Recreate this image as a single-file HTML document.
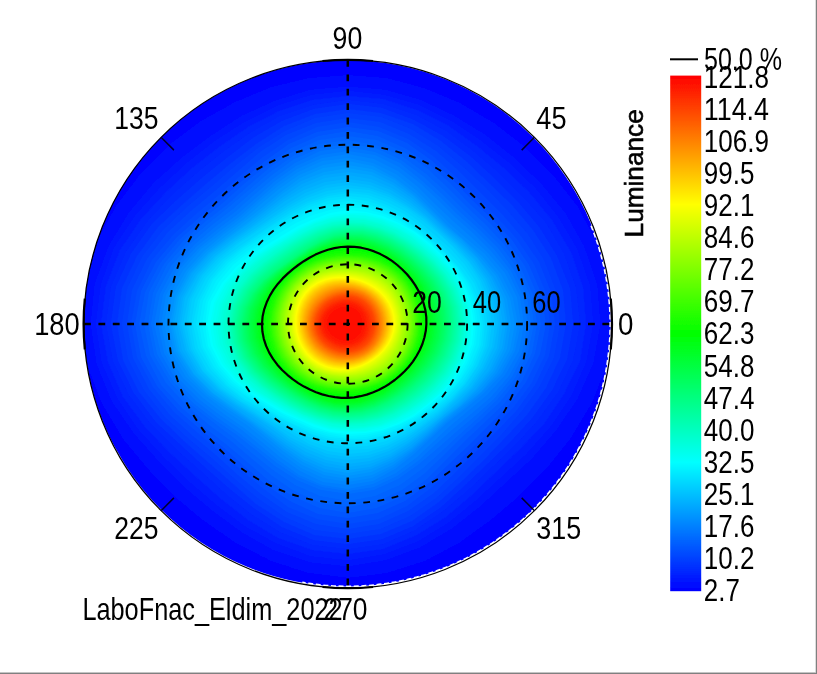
<!DOCTYPE html>
<html><head><meta charset="utf-8"><title>Luminance polar plot</title>
<style>
html,body{margin:0;padding:0;background:#fff;}
body{width:817px;height:674px;overflow:hidden;position:relative;}
svg{position:absolute;left:0;top:0;display:block;}
text{font-family:"Liberation Sans",sans-serif;fill:#000;}
</style></head><body>
<svg width="817" height="674" viewBox="0 0 817 674">
<defs>
<clipPath id="cp"><circle cx="347.2" cy="323.4" r="263.2"/></clipPath>
<linearGradient id="cb" x1="0" y1="0" x2="0" y2="1">
<stop offset="0" stop-color="#ff0000"/><stop offset="0.25" stop-color="#ffff00"/><stop offset="0.5" stop-color="#00ff00"/><stop offset="0.75" stop-color="#00ffff"/><stop offset="1" stop-color="#0000ff"/>
</linearGradient>
<filter id="soft" x="0" y="0" width="817" height="674" filterUnits="userSpaceOnUse"><feGaussianBlur stdDeviation="0.55"/></filter>
</defs>
<rect x="0" y="0" width="817" height="674" fill="#fff"/>
<g filter="url(#soft)">
<g clip-path="url(#cp)">
<rect x="80" y="55" width="540" height="540" fill="#0000ff"/>
<polygon points="620,324 616,282 603,241 585,203 560,170 532,140 500,115 465,94 428,78 388,68 348,64 307,67 267,77 230,92 195,113 163,139 134,169 110,203 91,241 79,281 76,324 81,366 94,407 113,444 137,477 165,506 196,532 231,554 268,571 307,582 348,586 389,583 428,572 466,556 500,534 532,508 560,478 584,444 603,407 615,366" fill="#0003ff"/>
<polygon points="613,324 610,283 597,243 578,207 553,175 525,147 494,123 460,103 424,88 387,78 348,75 309,78 271,87 235,102 201,121 169,145 141,173 116,206 96,242 84,282 81,324 87,365 102,404 123,439 148,469 175,497 204,521 236,543 271,561 308,573 348,578 387,573 425,561 459,543 491,520 519,496 547,468 571,438 592,403 607,365" fill="#000aff"/>
<polygon points="606,324 603,284 591,245 571,210 546,180 519,153 489,130 457,111 422,96 386,86 348,82 310,86 273,95 239,110 207,130 176,153 148,179 123,209 103,244 90,283 86,324 92,365 107,402 128,436 153,465 180,492 208,516 239,538 273,555 309,567 348,572 386,567 422,554 455,535 485,513 513,489 539,463 564,434 585,401 600,364" fill="#0011ff"/>
<polygon points="600,324 597,285 584,247 565,213 541,184 514,158 485,135 454,116 420,100 385,90 348,87 311,90 275,101 242,116 211,136 182,158 154,183 129,213 109,246 95,284 91,324 97,364 112,401 134,433 159,461 185,487 212,510 242,532 274,550 310,562 348,566 385,560 420,547 452,528 480,506 506,482 532,458 556,430 577,399 593,363" fill="#0018ff"/>
<polygon points="593,324 590,286 577,249 558,217 535,188 509,163 481,141 451,121 419,105 384,95 348,91 312,95 277,106 245,122 215,141 187,163 160,188 135,216 114,248 101,285 96,324 102,363 118,399 139,430 164,457 190,482 217,505 245,526 276,543 311,556 348,560 384,554 418,541 449,522 476,500 501,477 526,454 550,427 571,396 586,362" fill="#001fff"/>
<polygon points="586,324 583,287 571,252 552,220 529,192 504,168 477,146 449,126 417,110 383,99 348,96 312,100 279,111 248,127 219,147 192,168 166,192 141,219 120,250 106,286 101,324 108,362 123,397 145,427 170,453 195,476 221,499 248,520 278,538 312,550 348,554 383,549 417,535 446,517 472,495 496,472 520,449 544,424 564,394 580,361" fill="#0025ff"/>
<polygon points="580,324 576,288 564,254 546,223 523,197 499,173 473,151 446,131 416,115 383,104 348,100 313,105 280,116 250,133 223,152 197,173 171,196 147,222 126,252 111,287 106,324 113,361 129,395 151,424 176,449 201,471 225,493 251,514 280,532 313,545 348,549 383,544 415,530 443,511 468,490 491,468 515,445 537,421 558,392 573,360" fill="#002cff"/>
<polygon points="573,324 570,289 557,256 539,227 517,201 494,178 470,156 443,136 414,120 382,108 348,104 314,109 282,121 253,138 227,158 202,178 177,200 152,224 131,254 116,287 111,324 118,360 134,393 156,422 181,445 205,467 229,488 254,508 282,527 314,540 348,544 382,539 413,526 441,507 465,485 487,464 510,442 532,418 552,390 567,359" fill="#0033ff"/>
<polygon points="566,324 563,290 551,258 533,230 512,205 489,183 466,161 441,141 413,124 381,113 348,109 315,114 284,126 256,144 231,163 207,183 183,204 158,227 137,256 122,288 117,324 123,360 139,392 161,419 185,442 209,463 232,483 256,504 284,522 314,535 348,539 381,534 412,521 439,502 462,481 484,460 505,438 527,415 546,388 560,358" fill="#003aff"/>
<polygon points="560,324 556,291 544,260 527,233 506,209 485,187 462,166 438,146 411,129 381,117 348,113 315,118 285,131 258,148 234,167 211,187 187,207 163,230 142,257 127,289 122,324 128,359 144,390 165,417 189,439 213,459 235,479 259,499 285,517 315,530 348,534 380,529 410,516 436,498 459,477 480,456 501,435 521,412 540,386 554,357" fill="#0041ff"/>
<polygon points="555,324 551,292 539,262 521,236 501,213 480,192 459,171 436,151 409,134 380,122 348,118 316,123 286,135 260,152 237,172 215,191 192,210 168,232 147,259 132,290 127,324 133,358 149,389 170,415 193,436 216,455 238,475 261,494 287,512 316,524 348,529 379,524 408,511 434,493 456,472 476,452 496,432 517,410 535,385 549,356" fill="#0047ff"/>
<polygon points="550,324 546,293 534,264 516,238 496,216 476,196 455,176 433,156 408,139 379,127 348,122 317,127 288,140 263,157 240,176 219,195 196,214 173,235 152,260 137,291 131,324 137,357 153,387 174,412 198,433 220,452 241,470 264,489 288,507 317,519 348,524 379,519 407,506 431,488 452,468 472,448 492,429 513,408 531,384 545,355" fill="#004eff"/>
<polygon points="546,324 541,293 529,265 512,240 492,219 472,200 453,180 431,160 407,143 378,131 348,127 317,132 289,144 265,161 243,180 222,199 200,217 177,237 156,262 141,291 135,324 141,357 157,386 178,410 201,430 224,448 244,466 266,485 290,501 318,514 348,518 378,513 405,501 429,483 449,464 469,445 488,426 508,406 526,382 540,354" fill="#0055ff"/>
<polygon points="541,324 537,294 525,266 508,242 489,222 469,203 450,183 429,164 405,148 378,136 348,131 318,136 291,148 267,165 245,183 225,201 203,219 180,239 160,263 145,292 139,324 146,356 161,385 182,408 205,428 227,445 247,462 268,480 292,496 319,508 348,513 377,508 404,496 427,479 446,460 465,441 484,423 504,404 522,381 535,354" fill="#005cff"/>
<polygon points="537,324 533,295 521,268 504,244 485,224 466,206 447,187 427,168 404,152 377,140 348,136 319,140 292,152 269,168 248,186 228,204 206,221 184,240 164,264 149,292 144,324 150,355 166,383 187,406 209,425 231,441 251,458 271,475 294,491 320,503 348,507 376,502 402,490 424,474 443,456 461,438 481,420 500,402 518,379 532,353" fill="#0063ff"/>
<polygon points="534,324 530,295 518,269 501,246 482,227 463,209 445,191 425,173 402,156 376,145 348,140 319,144 293,156 270,172 250,189 230,206 209,223 187,242 167,265 153,293 148,324 154,355 170,382 190,404 213,422 234,438 253,454 273,470 295,485 320,496 348,501 375,496 400,485 422,469 441,452 459,435 478,418 497,400 515,378 528,353" fill="#0069ff"/>
<polygon points="531,324 527,296 514,270 498,248 479,229 460,212 442,194 423,176 401,160 376,148 348,144 320,148 294,159 272,175 252,192 233,209 212,225 190,244 171,266 156,294 151,324 157,354 173,381 193,403 215,420 237,435 256,450 275,466 297,480 321,490 348,494 374,490 398,479 419,464 438,448 456,432 475,416 494,399 512,377 525,352" fill="#0070ff"/>
<polygon points="528,324 523,296 511,271 494,249 476,231 457,214 440,197 421,180 400,163 375,152 348,147 320,151 295,163 274,178 254,195 235,212 215,227 194,245 174,268 160,294 154,324 161,354 176,380 196,401 218,418 239,433 258,448 277,463 298,477 322,487 348,491 374,487 397,476 418,461 435,445 453,429 471,414 491,397 509,376 522,352" fill="#0077ff"/>
<polygon points="524,324 520,297 508,272 491,251 473,233 455,217 438,200 420,183 399,167 375,155 348,151 321,155 296,166 275,181 256,198 238,214 218,229 196,247 177,269 163,295 158,324 164,353 179,379 200,400 221,416 242,430 260,445 278,460 299,475 322,485 348,489 373,484 396,473 416,458 433,442 450,426 468,411 487,395 505,375 519,351" fill="#007eff"/>
<polygon points="521,324 517,297 505,273 488,253 470,236 452,220 435,204 418,187 398,171 374,159 348,154 322,158 297,169 276,184 258,200 240,216 220,231 199,248 180,269 166,295 161,324 167,353 183,378 203,398 224,414 244,428 262,442 280,457 300,471 323,482 348,485 373,481 395,469 414,454 431,438 447,423 465,409 484,393 502,374 515,351" fill="#0085ff"/>
<polygon points="518,324 513,298 501,274 485,254 466,238 449,223 433,207 416,190 396,174 373,163 348,158 322,161 298,172 278,186 259,202 241,218 222,233 201,249 183,270 169,296 164,324 171,352 186,377 206,396 227,412 247,425 264,439 282,454 301,468 323,478 348,482 372,478 394,467 413,452 430,437 446,422 464,408 482,392 500,373 513,350" fill="#008bff"/>
<polygon points="515,324 510,298 498,275 482,256 464,240 447,225 431,209 415,193 395,178 373,166 348,161 323,165 299,175 279,189 261,204 243,220 224,234 204,251 186,271 172,296 168,324 174,352 189,376 208,395 229,410 249,423 266,437 283,451 302,465 324,475 348,479 372,475 393,465 412,451 429,436 445,421 462,407 481,392 497,373 510,350" fill="#0092ff"/>
<polygon points="511,324 507,299 496,276 480,257 463,240 446,226 430,210 414,195 395,180 372,169 348,165 323,168 300,178 281,192 263,207 245,221 226,236 206,252 188,272 175,297 170,324 176,351 191,375 210,394 231,409 250,422 267,435 284,449 303,462 324,472 348,476 371,472 393,462 412,449 428,435 444,420 461,406 479,391 495,372 507,349" fill="#0099ff"/>
<polygon points="508,324 504,299 493,277 478,258 462,241 445,227 429,212 413,196 394,183 372,172 348,168 324,172 301,181 282,194 264,209 247,223 228,237 208,253 190,273 177,297 172,324 178,351 193,374 212,393 232,408 251,421 268,434 285,447 304,460 325,469 348,473 371,469 392,460 411,448 427,434 443,419 460,406 477,390 493,371 504,349" fill="#00a0ff"/>
<polygon points="506,324 502,300 491,277 477,258 460,242 444,228 429,213 412,198 393,185 371,175 348,172 324,175 302,184 283,197 265,211 248,224 229,238 209,254 192,273 179,297 174,324 180,351 194,374 213,393 233,407 252,420 269,432 286,445 305,457 325,466 348,470 370,467 391,458 410,446 427,432 442,419 459,405 476,389 491,370 502,348" fill="#00a7ff"/>
<polygon points="503,324 499,300 489,278 475,259 459,243 443,229 428,214 411,200 392,188 371,179 348,175 325,178 303,187 284,199 267,212 249,226 231,239 211,254 194,274 181,298 177,324 182,350 196,373 215,392 235,406 253,418 270,431 287,443 305,455 326,463 348,467 370,464 391,456 409,444 426,431 441,418 458,404 474,388 489,370 499,348" fill="#00adff"/>
<polygon points="500,324 497,300 487,279 474,260 458,244 442,230 427,216 410,202 391,190 370,182 348,179 325,182 304,190 285,201 268,214 251,227 232,240 213,255 196,275 183,298 179,324 185,350 198,373 216,391 236,405 255,417 272,429 288,441 306,452 326,460 348,464 370,461 390,454 408,443 425,430 441,417 457,403 472,388 486,369 497,348" fill="#00b4ff"/>
<polygon points="498,324 494,301 485,279 472,261 457,245 441,231 426,217 409,204 390,193 370,185 348,182 326,185 305,193 287,204 269,216 252,228 234,241 215,256 198,275 185,298 181,324 187,350 200,372 218,390 237,404 256,416 273,427 289,439 307,449 327,457 348,460 369,458 389,451 407,441 424,429 440,416 455,402 471,387 484,368 494,347" fill="#00bbff"/>
<polygon points="495,324 492,301 483,280 470,262 456,246 440,232 425,218 408,206 390,195 369,188 348,185 326,188 306,196 288,206 271,218 253,230 235,242 216,257 200,276 188,299 183,324 189,349 202,371 219,389 238,403 257,415 274,426 290,437 308,446 327,454 348,457 369,455 388,449 406,439 423,427 439,415 454,401 469,386 482,368 492,347" fill="#00c2ff"/>
<polygon points="492,324 489,302 481,281 469,262 454,247 439,233 424,219 407,207 389,197 369,190 348,188 327,191 307,198 289,208 272,219 255,231 237,243 218,258 202,276 190,299 186,324 191,349 203,371 221,389 240,402 258,414 275,424 292,434 309,444 328,451 348,454 368,452 387,446 405,437 422,426 438,414 453,400 468,385 480,367 489,346" fill="#00c9ff"/>
<polygon points="490,324 487,302 479,281 467,263 453,247 438,233 423,221 407,209 388,199 369,193 348,191 327,194 308,201 290,210 273,221 256,232 238,244 220,259 204,277 192,299 188,324 193,349 205,370 222,388 241,402 259,412 276,423 293,432 310,441 328,447 348,450 368,449 387,444 404,435 421,425 437,413 452,400 466,384 478,366 487,346" fill="#00cfff"/>
<polygon points="488,324 484,302 476,282 465,265 451,249 436,236 421,223 405,211 387,202 368,195 348,193 328,196 308,203 291,212 274,223 258,234 240,246 222,260 206,278 195,300 191,324 195,348 207,370 224,387 242,401 260,411 277,421 294,430 311,438 329,444 348,447 367,446 386,441 403,433 420,423 436,412 451,399 465,384 477,366 485,346" fill="#00d6ff"/>
<polygon points="485,324 482,303 474,283 462,266 448,251 434,238 419,225 404,214 387,205 368,198 348,196 328,198 309,205 292,214 275,224 259,235 242,247 224,261 209,279 198,300 193,324 198,348 210,369 226,386 244,400 262,410 278,420 295,428 312,435 329,441 348,444 367,443 385,438 402,431 419,422 434,411 450,398 464,383 475,365 483,345" fill="#00ddff"/>
<polygon points="483,324 479,303 471,284 459,267 446,253 432,240 418,228 402,217 386,207 367,201 348,198 328,201 310,207 293,216 277,226 260,237 243,248 226,262 211,280 200,301 196,324 201,347 212,368 227,385 245,399 263,409 279,418 296,426 312,434 330,439 348,441 366,440 384,436 402,429 418,420 433,410 448,397 462,382 473,365 481,345" fill="#00e4ff"/>
<polygon points="481,324 477,303 469,284 458,268 445,253 431,241 417,229 402,218 385,210 367,204 348,201 329,204 311,210 294,218 278,228 262,238 245,249 228,263 213,280 203,301 199,324 203,347 214,367 229,384 247,397 264,408 280,417 296,425 313,432 330,437 348,439 366,439 384,435 401,428 417,419 432,409 447,396 460,381 471,364 479,345" fill="#00ebff"/>
<polygon points="478,324 475,304 468,285 457,268 444,254 430,241 416,230 401,220 384,212 366,206 348,204 329,207 312,212 295,220 279,229 263,240 247,251 230,264 216,281 206,301 202,324 206,346 217,367 231,383 248,396 265,407 281,416 297,423 313,430 330,435 348,438 366,437 383,433 400,427 416,418 431,408 446,395 459,381 469,363 476,344" fill="#00f1ff"/>
<polygon points="476,324 473,304 466,286 456,269 443,255 430,242 415,231 400,221 384,214 366,209 348,207 330,210 313,215 296,223 281,232 265,242 249,252 233,265 219,282 208,302 205,324 208,346 219,366 233,382 250,395 266,405 282,414 298,422 314,429 330,433 348,436 365,435 383,431 399,425 415,417 430,407 445,394 457,380 467,363 474,344" fill="#00f8ff"/>
<polygon points="474,324 471,304 464,286 454,270 442,255 429,243 415,232 399,223 383,216 366,212 348,210 330,213 314,219 298,226 283,235 268,244 252,254 236,267 222,283 211,302 207,324 211,346 221,365 235,381 251,394 268,404 283,413 299,420 314,427 331,432 348,434 365,433 382,430 399,424 414,416 429,405 443,393 455,379 465,362 472,344" fill="#00ffff"/>
<polygon points="472,324 470,305 463,287 453,270 441,256 428,244 414,233 399,224 382,218 365,213 348,213 331,215 314,221 299,228 284,237 269,246 254,256 238,268 224,284 214,303 210,324 213,345 223,365 237,381 253,393 269,403 284,412 299,419 315,425 331,430 348,432 365,432 382,429 398,423 414,415 428,404 442,392 454,378 464,362 470,343" fill="#00fff8"/>
<polygon points="471,324 468,305 462,287 452,271 440,257 427,245 413,234 398,225 382,219 365,215 348,214 331,217 315,222 300,229 285,238 270,247 255,257 240,269 226,284 216,303 212,324 216,345 225,364 238,380 254,392 270,402 285,411 300,418 315,424 331,429 348,431 365,431 381,427 397,422 413,414 427,404 441,392 453,378 462,361 469,343" fill="#00fff1"/>
<polygon points="469,324 467,305 461,287 451,271 439,258 426,246 412,235 397,227 382,220 365,216 348,215 331,218 315,223 300,230 286,239 271,248 256,257 241,270 228,285 219,304 215,324 218,345 227,363 240,379 255,391 270,401 285,410 300,417 315,423 331,428 348,430 364,429 381,426 397,420 412,412 426,403 440,391 452,377 461,361 467,343" fill="#00ffeb"/>
<polygon points="468,324 466,305 459,288 450,272 438,258 425,247 411,236 397,228 381,221 365,218 348,217 331,219 315,224 301,231 286,240 272,248 258,258 243,271 230,286 221,304 217,324 220,344 229,363 242,378 256,391 271,400 286,409 301,416 316,422 332,427 348,429 364,428 381,425 396,419 411,411 425,402 439,390 450,376 460,360 466,343" fill="#00ffe4"/>
<polygon points="467,324 464,306 458,288 449,273 437,259 424,248 411,237 396,229 381,223 364,219 348,218 331,221 316,226 301,233 287,241 273,249 259,259 245,271 232,286 223,304 220,324 223,344 231,362 243,377 257,390 272,400 287,408 301,415 316,421 332,426 348,428 364,427 380,424 396,418 410,410 424,401 438,389 449,376 459,360 465,343" fill="#00ffdd"/>
<polygon points="465,324 463,306 457,289 448,273 436,260 423,248 410,239 396,230 380,224 364,220 348,220 332,222 316,227 302,234 288,242 274,250 260,260 246,272 234,287 225,305 222,324 225,343 233,361 245,376 259,389 273,399 287,407 302,414 316,420 332,424 348,426 364,426 380,422 395,417 410,409 423,400 436,388 448,375 457,360 463,342" fill="#00ffd6"/>
<polygon points="464,324 462,306 456,289 446,274 435,261 422,249 409,240 395,232 380,225 364,222 348,221 332,223 317,228 302,235 289,243 275,251 261,261 248,273 236,288 228,305 224,324 227,343 235,361 246,376 260,388 274,398 288,406 302,414 317,419 332,423 348,425 364,424 379,421 394,416 409,408 423,399 435,388 447,374 456,359 462,342" fill="#00ffcf"/>
<polygon points="463.1,324 460.7,306.1 454.5,289.3 445.3,274.3 434,261.3 421.6,250.2 408.3,240.7 394.3,232.8 379.4,226.8 363.8,223.2 347.8,222.4 332.1,224.6 317,229.3 302.9,235.9 289.4,243.7 276.2,252.4 262.7,262.2 249.6,274 238.2,288.4 230.1,305.4 226.8,324 229.3,342.8 236.7,360.1 247.7,375 260.8,387.2 274.6,397.2 288.5,405.7 302.5,412.8 317.1,418.5 332.2,422.3 347.8,424 363.5,423.1 378.9,419.8 393.8,414.3 408,406.9 421.6,397.8 434.3,386.8 445.6,373.8 454.8,358.8 460.9,341.9" fill="#00ffc9"/>
<polygon points="461.8,324 459.6,306.3 453.5,289.7 444.4,274.8 433.2,261.9 420.9,250.9 407.8,241.5 393.9,233.6 379.1,227.7 363.6,224.1 347.8,223.3 332.2,225.6 317.4,230.3 303.4,236.9 290.1,244.6 277,253.2 263.7,262.9 250.7,274.5 239.4,288.8 231.3,305.5 228,324 230.4,342.6 237.8,359.7 248.7,374.5 261.6,386.6 275.3,396.5 289,404.9 303,412 317.4,417.6 332.4,421.5 347.8,423.1 363.3,422.2 378.6,418.8 393.3,413.4 407.4,406 420.7,396.9 433.2,386.1 444.5,373.3 453.6,358.4 459.7,341.7" fill="#00ffc2"/>
<polygon points="460.6,324 458.4,306.5 452.4,290 443.4,275.3 432.4,262.5 420.2,251.6 407.2,242.2 393.4,234.4 378.8,228.5 363.5,225 347.8,224.3 332.4,226.6 317.7,231.3 303.9,237.9 290.8,245.6 277.9,254.1 264.7,263.6 251.8,275.1 240.6,289.2 232.5,305.7 229.1,324 231.5,342.4 238.8,359.4 249.6,374 262.4,386 276,395.8 289.6,404.2 303.4,411.2 317.7,416.8 332.5,420.6 347.8,422.2 363.2,421.2 378.3,417.9 392.8,412.4 406.7,405 419.8,396 432.2,385.3 443.4,372.7 452.4,358 458.5,341.5" fill="#00ffbb"/>
<polygon points="459.4,324 457.3,306.7 451.3,290.4 442.4,275.8 431.6,263.1 419.5,252.3 406.7,243 393,235.2 378.5,229.4 363.3,225.9 347.8,225.2 332.5,227.6 318,232.3 304.4,238.9 291.5,246.5 278.8,255 265.7,264.4 253,275.7 241.8,289.5 233.7,305.9 230.3,324 232.6,342.2 239.9,359.1 250.5,373.6 263.2,385.4 276.7,395.1 290.1,403.4 303.8,410.4 317.9,415.9 332.6,419.7 347.8,421.2 363,420.3 378,416.9 392.3,411.4 406,404.1 419,395.2 431.2,384.6 442.2,372.1 451.2,357.6 457.2,341.3" fill="#00ffb4"/>
<polygon points="458.2,324 456.1,306.8 450.2,290.7 441.5,276.3 430.7,263.8 418.8,253 406.1,243.8 392.6,236.1 378.3,230.3 363.2,226.8 347.8,226.2 332.7,228.5 318.3,233.3 304.9,239.9 292.2,247.5 279.6,255.8 266.7,265.1 254.1,276.2 242.9,289.9 234.9,306.1 231.5,324 233.7,342.1 240.9,358.7 251.5,373.1 264,384.9 277.3,394.5 290.7,402.6 304.2,409.6 318.2,415.1 332.8,418.8 347.8,420.3 362.9,419.3 377.7,415.9 391.8,410.4 405.3,403.1 418.1,394.3 430.2,383.9 441.1,371.5 450,357.2 456,341.1" fill="#00ffad"/>
<polygon points="457,324 454.9,307 449.2,291.1 440.5,276.8 429.9,264.4 418.1,253.7 405.5,244.5 392.2,236.9 378,231.1 363,227.7 347.8,227.1 332.8,229.5 318.7,234.4 305.4,240.9 292.9,248.4 280.5,256.7 267.7,265.8 255.2,276.8 244.1,290.3 236,306.3 232.6,324 234.9,341.9 241.9,358.4 252.4,372.6 264.9,384.3 278,393.8 291.2,401.9 304.6,408.8 318.5,414.2 332.9,417.9 347.8,419.4 362.7,418.4 377.3,414.9 391.3,409.4 404.6,402.2 417.2,393.4 429.2,383.1 440,371 448.8,356.8 454.8,340.9" fill="#00ffa7"/>
<polygon points="455.8,324 453.8,307.2 448.1,291.4 439.6,277.2 429.1,265 417.4,254.4 405,245.3 391.8,237.7 377.7,232 362.9,228.6 347.8,228.1 333,230.5 319,235.4 306,241.9 293.6,249.4 281.4,257.6 268.7,266.6 256.3,277.4 245.3,290.7 237.2,306.5 233.8,324 236,341.7 243,358.1 253.3,372.1 265.7,383.7 278.7,393.1 291.8,401.1 305,408 318.8,413.4 333.1,417.1 347.8,418.5 362.6,417.4 377,413.9 390.8,408.5 403.9,401.2 416.4,392.6 428.1,382.4 438.8,370.4 447.6,356.4 453.5,340.7" fill="#00ffa0"/>
<polygon points="454.5,324 452.6,307.4 447,291.8 438.6,277.7 428.2,265.6 416.7,255.1 404.4,246 391.4,238.5 377.4,232.8 362.8,229.5 347.8,229 333.1,231.5 319.3,236.4 306.5,242.9 294.3,250.3 282.2,258.4 269.8,267.3 257.4,277.9 246.4,291.1 238.4,306.7 235,324 237.1,341.5 244,357.7 254.3,371.6 266.5,383.1 279.4,392.4 292.3,400.4 305.4,407.1 319,412.5 333.2,416.2 347.8,417.6 362.4,416.4 376.7,413 390.3,407.5 403.2,400.3 415.5,391.7 427.1,381.6 437.7,369.8 446.4,356 452.3,340.5" fill="#00ff99"/>
<polygon points="453.3,324 451.5,307.6 446,292.1 437.6,278.2 427.4,266.2 416,255.8 403.9,246.8 390.9,239.3 377.1,233.7 362.6,230.4 347.8,229.9 333.3,232.5 319.6,237.4 307,243.9 295,251.3 283.1,259.3 270.8,268 258.5,278.5 247.6,291.4 239.6,306.9 236.1,324 238.2,341.4 245,357.4 255.2,371.2 267.3,382.5 280.1,391.7 292.9,399.6 305.8,406.3 319.3,411.7 333.3,415.3 347.8,416.7 362.3,415.5 376.4,412 389.8,406.5 402.5,399.4 414.6,390.8 426.1,380.9 436.6,369.2 445.2,355.6 451,340.4" fill="#00ff92"/>
<polygon points="452.1,324 450.3,307.8 444.9,292.5 436.7,278.7 426.6,266.8 415.3,256.5 403.3,247.6 390.5,240.1 376.9,234.6 362.5,231.3 347.8,230.9 333.5,233.4 320,238.4 307.5,244.9 295.7,252.3 284,260.2 271.8,268.8 259.6,279.1 248.8,291.8 240.8,307.1 237.3,324 239.3,341.2 246.1,357.1 256.2,370.7 268.1,381.9 280.8,391 293.4,398.8 306.3,405.5 319.6,410.8 333.5,414.4 347.8,415.8 362.1,414.5 376.1,411 389.3,405.5 401.9,398.4 413.8,390 425.1,380.2 435.4,368.6 444,355.2 449.8,340.2" fill="#00ff8b"/>
<polygon points="450.9,324 449.1,307.9 443.8,292.8 435.7,279.2 425.8,267.4 414.6,257.2 402.8,248.3 390.1,241 376.6,235.4 362.3,232.2 347.8,231.8 333.6,234.4 320.3,239.4 308,245.9 296.4,253.2 284.8,261 272.8,269.5 260.7,279.6 249.9,292.2 242,307.2 238.5,324 240.4,341 247.1,356.7 257.1,370.2 269,381.3 281.5,390.3 294,398.1 306.7,404.7 319.9,410 333.6,413.5 347.8,414.8 362,413.6 375.8,410 388.8,404.5 401.2,397.5 412.9,389.1 424.1,379.4 434.3,368.1 442.8,354.9 448.6,340" fill="#00ff85"/>
<polygon points="449.7,324 448,308.1 442.7,293.2 434.8,279.7 424.9,268 413.9,257.9 402.2,249.1 389.7,241.8 376.3,236.3 362.2,233.1 347.8,232.8 333.8,235.4 320.6,240.4 308.5,246.9 297.1,254.2 285.7,261.9 273.8,270.2 261.8,280.2 251.1,292.6 243.2,307.4 239.6,324 241.5,340.8 248.1,356.4 258,369.7 269.8,380.7 282.2,389.6 294.5,397.3 307.1,403.9 320.1,409.1 333.8,412.6 347.8,413.9 361.8,412.6 375.4,409 388.3,403.5 400.5,396.5 412,388.2 423.1,378.7 433.1,367.5 441.5,354.5 447.3,339.8" fill="#00ff7e"/>
<polygon points="448.5,324 446.8,308.3 441.7,293.5 433.8,280.2 424.1,268.6 413.2,258.6 401.7,249.8 389.3,242.6 376,237.1 362.1,233.9 347.8,233.6 333.9,236.3 320.9,241.3 309,247.8 297.7,255.1 286.6,262.8 274.8,271 263,280.8 252.3,293 244.4,307.6 240.8,324 242.7,340.7 249.2,356 259,369.3 270.6,380.1 282.8,389 295.1,396.6 307.5,403.1 320.4,408.3 333.9,411.8 347.8,413 361.7,411.7 375.1,408.1 387.8,402.6 399.8,395.6 411.2,387.4 422,377.9 432,366.9 440.3,354.1 446.1,339.6" fill="#00ff77"/>
<polygon points="447.2,324 445.6,308.5 440.6,293.9 432.8,280.7 423.2,269.2 412.5,259.3 401.1,250.6 388.9,243.4 375.8,237.9 361.9,234.8 347.8,234.4 334,237 321.1,241.9 309.2,248.3 298.1,255.5 287,263.2 275.3,271.3 263.7,281.1 253.2,293.3 245.4,307.8 242,324 243.8,340.5 250.3,355.7 260,368.8 271.4,379.5 283.5,388.3 295.6,395.8 307.9,402.3 320.7,407.5 334,411 347.8,412.2 361.6,410.9 374.9,407.3 387.4,401.8 399.3,394.8 410.5,386.7 421.2,377.3 431,366.4 439.2,353.7 444.9,339.4" fill="#00ff70"/>
<polygon points="446,324 444.5,308.7 439.5,294.2 431.9,281.2 422.4,269.8 411.8,260 400.6,251.4 388.5,244.2 375.5,238.8 361.8,235.6 347.8,235.2 334.1,237.7 321.3,242.5 309.5,248.8 298.4,256 287.3,263.5 275.8,271.7 264.3,281.5 254.1,293.5 246.5,308 243.1,324 245,340.3 251.4,355.3 260.9,368.3 272.2,378.9 284.2,387.6 296.1,395.2 308.2,401.6 320.9,406.8 334.1,410.2 347.8,411.5 361.4,410.1 374.6,406.5 387,401 398.7,394.1 409.8,386 420.3,376.7 430,365.9 438.1,353.3 443.7,339.2" fill="#00ff69"/>
<polygon points="444.8,324 443.3,308.9 438.4,294.6 430.9,281.7 421.6,270.4 411.2,260.6 400,252.1 388.1,245 375.2,239.6 361.7,236.4 347.8,236 334.2,238.4 321.5,243.1 309.7,249.3 298.7,256.4 287.7,263.9 276.4,272.1 265,281.8 255,293.8 247.5,308.1 244.3,324 246.2,340.1 252.5,355 261.8,367.8 273,378.4 284.8,387 296.5,394.6 308.6,401 321.1,406.1 334.3,409.5 347.8,410.7 361.3,409.4 374.4,405.7 386.7,400.3 398.2,393.3 409.1,385.3 419.5,376.1 429,365.4 437,353 442.5,339" fill="#00ff63"/>
<polygon points="443.4,324 442,309.1 437.2,295 429.9,282.2 420.8,271 410.5,261.3 399.5,252.8 387.7,245.7 375,240.4 361.5,237.3 347.8,236.7 334.3,239.1 321.7,243.7 310,249.8 299,256.8 288.1,264.3 276.9,272.5 265.7,282.2 255.9,294.1 248.6,308.3 245.5,324 247.3,339.9 253.5,354.6 262.8,367.3 273.7,377.8 285.3,386.5 297,393.9 308.9,400.3 321.3,405.4 334.4,408.8 347.8,409.9 361.2,408.6 374.1,405 386.3,399.5 397.6,392.6 408.4,384.6 418.6,375.4 428,364.9 435.8,352.6 441.2,338.8" fill="#00ff5c"/>
<polygon points="442.1,324 440.7,309.3 436,295.3 428.9,282.7 419.9,271.6 409.8,262 399,253.5 387.3,246.5 374.7,241.2 361.4,238.1 347.8,237.5 334.5,239.8 321.9,244.3 310.2,250.3 299.3,257.2 288.5,264.7 277.4,272.8 266.4,282.5 256.8,294.4 249.7,308.5 246.6,324 248.5,339.7 254.6,354.3 263.7,366.9 274.5,377.3 285.9,385.9 297.4,393.3 309.2,399.7 321.6,404.7 334.5,408 347.8,409.2 361.1,407.8 373.9,404.2 385.9,398.7 397.1,391.9 407.7,383.9 417.7,374.8 426.9,364.3 434.6,352.2 439.9,338.6" fill="#00ff55"/>
<polygon points="440.7,324 439.4,309.5 434.9,295.7 427.9,283.2 419.1,272.2 409.2,262.6 398.5,254.3 386.9,247.3 374.4,242 361.3,238.9 347.8,238.3 334.6,240.5 322.1,244.9 310.5,250.8 299.6,257.6 288.9,265.1 277.9,273.2 267.1,282.9 257.6,294.7 250.7,308.6 247.8,324 249.7,339.5 255.7,353.9 264.6,366.4 275.2,376.7 286.5,385.3 297.9,392.7 309.6,399 321.8,404 334.6,407.3 347.8,408.4 361,407 373.6,403.4 385.5,398 396.6,391.1 407,383.2 416.9,374.2 425.9,363.8 433.4,351.8 438.6,338.4" fill="#00ff4e"/>
<polygon points="439.3,324 438.1,309.7 433.7,296.1 426.9,283.7 418.3,272.8 408.5,263.3 398,255 386.5,248 374.2,242.8 361.2,239.7 347.8,239.1 334.7,241.2 322.3,245.5 310.7,251.3 299.9,258.1 289.3,265.5 278.5,273.6 267.9,283.3 258.7,295 252,308.8 249.2,324 251,339.3 256.8,353.6 265.6,365.9 276,376.2 287.1,384.7 298.3,392.1 309.9,398.4 322,403.3 334.7,406.6 347.8,407.7 360.8,406.3 373.3,402.6 385.1,397.2 396,390.4 406.3,382.5 416,373.5 424.8,363.2 432.1,351.4 437.2,338.2" fill="#00ff47"/>
<polygon points="438,324 436.7,309.9 432.5,296.5 425.9,284.2 417.5,273.4 407.9,263.9 397.4,255.7 386.1,248.8 373.9,243.6 361,240.5 347.8,239.9 334.8,241.9 322.5,246.1 311,251.8 300.2,258.5 289.7,265.9 279,274 268.7,283.7 259.7,295.4 253.2,309 250.5,324 252.3,339.1 258,353.2 266.6,365.4 276.8,375.6 287.7,384.1 298.8,391.5 310.2,397.7 322.2,402.7 334.8,405.9 347.8,406.9 360.7,405.5 373.1,401.9 384.7,396.5 395.5,389.7 405.6,381.8 415.1,372.9 423.8,362.7 430.9,351 435.9,338" fill="#00ff41"/>
<polygon points="436.6,324 435.4,310.1 431.3,296.9 424.9,284.7 416.7,274 407.2,264.6 396.9,256.4 385.7,249.6 373.7,244.4 360.9,241.4 347.8,240.7 334.9,242.6 322.7,246.6 311.2,252.2 300.5,258.9 290,266.2 279.6,274.4 269.5,284.1 260.7,295.7 254.5,309.2 251.9,324 253.6,338.9 259.2,352.8 267.6,364.9 277.5,375 288.3,383.5 299.2,390.9 310.5,397.1 322.5,402 334.9,405.1 347.8,406.1 360.6,404.7 372.8,401.1 384.3,395.7 395,388.9 404.9,381.1 414.2,372.3 422.7,362.2 429.7,350.6 434.6,337.7" fill="#00ff3a"/>
<polygon points="435.3,324 434.1,310.3 430.2,297.2 423.9,285.2 415.8,274.6 406.6,265.2 396.4,257.1 385.3,250.3 373.4,245.2 360.8,242.2 347.8,241.5 335,243.3 322.9,247.2 311.5,252.7 300.8,259.3 290.4,266.6 280.1,274.8 270.2,284.5 261.7,296 255.7,309.4 253.2,324 255,338.7 260.4,352.4 268.5,364.4 278.3,374.5 288.8,383 299.7,390.3 310.9,396.5 322.7,401.3 335.1,404.4 347.8,405.4 360.5,403.9 372.6,400.3 383.9,394.9 394.4,388.2 404.2,380.4 413.4,371.6 421.6,361.6 428.5,350.2 433.2,337.5" fill="#00ff33"/>
<polygon points="433.9,324 432.8,310.5 429,297.6 422.9,285.7 415,275.2 405.9,265.9 395.9,257.8 384.9,251.1 373.1,246 360.6,243 347.8,242.3 335.1,244 323,247.8 311.7,253.2 301.1,259.7 290.8,267 280.7,275.2 271,284.9 262.8,296.4 256.9,309.6 254.6,324 256.3,338.5 261.6,352 269.5,363.9 279.1,373.9 289.4,382.4 300.1,389.7 311.2,395.8 322.9,400.6 335.2,403.7 347.8,404.6 360.3,403.1 372.3,399.5 383.5,394.2 393.9,387.5 403.5,379.7 412.5,371 420.6,361.1 427.3,349.8 431.9,337.3" fill="#00ff2c"/>
<polygon points="432.5,324 431.5,310.7 427.8,298 421.9,286.3 414.2,275.8 405.3,266.5 395.4,258.5 384.6,251.9 372.9,246.9 360.5,243.8 347.8,243.1 335.2,244.7 323.2,248.4 312,253.7 301.4,260.1 291.2,267.4 281.2,275.6 271.8,285.3 263.8,296.7 258.2,309.8 255.9,324 257.6,338.3 262.8,351.6 270.5,363.4 279.9,373.4 290,381.8 300.5,389.1 311.5,395.2 323.1,400 335.3,403 347.8,403.8 360.2,402.4 372.1,398.7 383.2,393.4 393.4,386.7 402.8,379 411.6,370.4 419.5,360.6 426.1,349.4 430.6,337.1" fill="#00ff25"/>
<polygon points="431.2,324 430.2,310.9 426.7,298.4 420.9,286.8 413.4,276.4 404.6,267.2 394.9,259.2 384.2,252.6 372.6,247.7 360.4,244.6 347.8,243.8 335.4,245.4 323.4,249 312.2,254.1 301.7,260.5 291.6,267.8 281.8,276 272.6,285.7 264.8,297 259.4,310 257.3,324 259,338.1 264,351.2 271.5,362.9 280.6,372.8 290.6,381.2 301,388.5 311.8,394.6 323.3,399.3 335.4,402.2 347.8,403.1 360.1,401.6 371.8,398 382.8,392.6 392.8,386 402.1,378.3 410.8,369.7 418.5,360 424.8,349 429.3,336.9" fill="#00ff1f"/>
<polygon points="429.8,324 428.9,311.2 425.5,298.8 419.9,287.3 412.6,277 404,267.8 394.3,259.9 383.8,253.4 372.3,248.5 360.2,245.5 347.8,244.6 335.5,246.1 323.6,249.6 312.5,254.6 302,260.9 292,268.2 282.3,276.4 273.4,286.1 265.9,297.4 260.7,310.2 258.6,324 260.3,337.9 265.1,350.9 272.5,362.4 281.4,372.3 291.2,380.6 301.5,387.8 312.3,393.7 323.7,398.3 335.6,401.1 347.8,401.9 359.9,400.4 371.5,396.9 382.3,391.7 392.3,385.2 401.4,377.6 409.9,369.1 417.5,359.5 423.7,348.6 427.9,336.7" fill="#00ff18"/>
<polygon points="428.4,324 427.6,311.4 424.3,299.2 418.8,287.8 411.7,277.6 403.3,268.5 393.8,260.6 383.4,254.2 372.1,249.3 360.1,246.3 347.8,245.4 335.6,246.8 323.8,250.1 312.7,255.1 302.3,261.3 292.3,268.5 282.9,276.8 274.2,286.5 266.9,297.7 261.9,310.4 260,324 261.5,337.7 266.2,350.5 273.3,361.9 282.1,371.8 291.8,380 302,387 312.8,392.8 324.1,397 335.8,399.6 347.8,400.2 359.7,398.8 371,395.5 381.7,390.6 391.6,384.3 400.7,376.9 409.1,368.6 416.5,359 422.5,348.3 426.7,336.5" fill="#00ff11"/>
<polygon points="427.1,324 426.3,311.6 423.1,299.5 417.8,288.3 410.9,278.2 402.6,269.2 393.3,261.3 383,254.9 371.8,250.1 360,247.1 347.8,246.2 335.7,247.5 324,250.7 312.9,255.6 302.5,261.7 292.7,268.9 283.4,277.2 275,286.9 268,298.1 263.2,310.6 261.3,324 262.8,337.5 267.3,350.1 274.2,361.5 282.8,371.2 292.4,379.4 302.5,386.3 313.3,391.8 324.5,395.7 336.1,398.1 347.8,398.6 359.4,397.2 370.6,394.1 381.1,389.4 391,383.4 400,376.2 408.3,368 415.6,358.5 421.4,347.9 425.4,336.3" fill="#00ff0a"/>
<polygon points="425.9,324 425.1,311.8 422,299.9 417,288.8 410.2,278.7 402.1,269.7 392.8,262 382.6,255.7 371.5,251 359.8,248.1 347.8,247.3 335.8,248.5 324.2,251.5 313.2,256.2 302.9,262.2 293.1,269.3 284,277.6 275.7,287.3 269,298.4 264.4,310.8 262.7,324 264.1,337.3 268.4,349.8 275.1,361 283.4,370.8 292.9,378.9 303,385.6 313.7,390.9 324.9,394.6 336.3,396.8 347.8,397.2 359.2,395.9 370.2,392.9 380.7,388.5 390.4,382.7 399.5,375.7 407.7,367.5 414.8,358.1 420.4,347.6 424.3,336.1" fill="#00ff03"/>
<polygon points="424.9,324 424.1,311.9 421.2,300.2 416.3,289.1 409.6,279.1 401.6,270.2 392.4,262.7 382.1,256.6 371.2,252.1 359.6,249.4 347.8,248.6 336,249.7 324.6,252.5 313.6,256.9 303.3,262.7 293.6,269.8 284.5,278 276.5,287.7 270,298.7 265.6,311 264,324 265.3,337.1 269.5,349.4 275.9,360.6 284.1,370.3 293.4,378.4 303.5,385 314.1,390.1 325.2,393.6 336.5,395.6 347.8,396 359,394.7 369.9,392 380.3,387.7 390,382.1 399,375.2 407.1,367.1 414.1,357.8 419.6,347.3 423.3,336" fill="#03ff00"/>
<polygon points="423.9,324 423.2,312.1 420.4,300.4 415.6,289.5 409.1,279.5 401.1,270.7 391.9,263.3 381.7,257.4 370.8,253.2 359.4,250.7 347.8,249.9 336.2,250.9 324.9,253.5 314,257.7 303.7,263.3 294,270.2 285.1,278.4 277.2,288 271,299 266.8,311.2 265.2,324 266.6,336.9 270.6,349.1 276.8,360.2 284.7,369.8 293.9,377.9 303.9,384.4 314.5,389.3 325.5,392.6 336.6,394.5 347.8,394.8 358.8,393.6 369.6,391 379.9,386.9 389.6,381.5 398.6,374.8 406.6,366.7 413.4,357.4 418.8,347.1 422.3,335.8" fill="#0aff00"/>
<polygon points="422.8,324 422.2,312.2 419.5,300.7 414.9,289.8 408.5,279.9 400.6,271.2 391.4,264 381.3,258.3 370.5,254.3 359.2,251.9 347.8,251.2 336.4,252.1 325.2,254.5 314.4,258.4 304.1,263.8 294.4,270.6 285.6,278.8 278,288.4 272,299.4 268,311.4 266.6,324 267.8,336.7 271.6,348.8 277.6,359.8 285.4,369.4 294.4,377.4 304.4,383.8 314.9,388.5 325.8,391.7 336.8,393.3 347.8,393.5 358.6,392.4 369.2,390 379.5,386.2 389.2,380.9 398.1,374.3 406.1,366.3 412.8,357.1 418,346.8 421.4,335.7" fill="#11ff00"/>
<polygon points="421.8,324 421.2,312.4 418.7,301 414.2,290.2 407.9,280.3 400.1,271.7 390.9,264.6 380.8,259.2 370.1,255.4 359,253.2 347.8,252.5 336.6,253.3 325.5,255.5 314.8,259.2 304.5,264.4 294.9,271.1 286.2,279.2 278.7,288.8 272.9,299.7 269.2,311.6 267.9,324 269.1,336.5 272.7,348.4 278.5,359.3 286,368.9 294.9,376.9 304.8,383.1 315.3,387.7 326.1,390.7 337,392.2 347.8,392.3 358.5,391.3 368.9,389 379.1,385.4 388.7,380.4 397.7,373.9 405.5,365.9 412.1,356.8 417.1,346.5 420.4,335.5" fill="#18ff00"/>
<polygon points="420.8,324 420.3,312.5 417.8,301.2 413.5,290.5 407.3,280.7 399.6,272.2 390.5,265.3 380.4,260 369.7,256.5 358.8,254.5 347.8,253.8 336.8,254.5 325.9,256.5 315.2,260 304.9,264.9 295.3,271.5 286.7,279.6 279.5,289.2 273.9,300 270.4,311.7 269.2,324 270.3,336.3 273.8,348.1 279.3,358.9 286.7,368.4 295.5,376.3 305.3,382.5 315.7,386.9 326.5,389.7 337.2,391 347.8,391.1 358.3,390.1 368.6,388 378.7,384.6 388.3,379.8 397.2,373.4 405,365.6 411.4,356.4 416.3,346.3 419.5,335.4" fill="#1fff00"/>
<polygon points="419.9,324 419.4,312.7 417.1,301.5 412.8,290.9 406.8,281.2 399.1,272.7 390,265.9 380,260.8 369.5,257.3 358.7,255.4 347.8,254.8 336.9,255.4 326.1,257.3 315.5,260.6 305.3,265.4 295.7,271.9 287.2,280 280.1,289.5 274.8,300.3 271.4,311.9 270.2,324 271.3,336.1 274.7,347.8 280.1,358.5 287.3,368 296,375.8 305.7,381.9 316.1,386.2 326.7,388.9 337.3,390.2 347.8,390.2 358.1,389.3 368.4,387.3 378.4,384 387.9,379.2 396.8,373 404.5,365.2 410.8,356.1 415.6,346 418.6,335.2" fill="#25ff00"/>
<polygon points="419.2,324 418.7,312.8 416.4,301.7 412.2,291.2 406.2,281.6 398.6,273.2 389.6,266.5 379.7,261.4 369.3,258 358.6,256 347.8,255.4 337,256 326.3,257.9 315.8,261.1 305.6,265.9 296.2,272.4 287.8,280.4 280.7,289.8 275.4,300.5 272.1,312 271,324 272.1,336 275.4,347.5 280.8,358.2 287.9,367.5 296.5,375.3 306.1,381.4 316.4,385.7 326.9,388.3 337.4,389.6 347.8,389.7 358.1,388.7 368.2,386.7 378.1,383.5 387.6,378.7 396.3,372.5 403.9,364.8 410.2,355.8 414.9,345.8 418,335.1" fill="#2cff00"/>
<polygon points="418.5,324 418,312.9 415.7,301.9 411.6,291.5 405.6,282 398.1,273.7 389.2,267 379.4,262 369.1,258.6 358.5,256.7 347.8,256.1 337.1,256.6 326.5,258.4 316,261.6 306,266.4 296.6,272.8 288.3,280.7 281.3,290.1 276.1,300.7 272.8,312.1 271.7,324 272.9,335.9 276.2,347.3 281.5,357.8 288.5,367.1 297,374.8 306.5,380.8 316.7,385.1 327.1,387.8 337.5,389 347.8,389.1 358,388.2 368,386.2 377.8,382.9 387.2,378.2 395.8,372 403.4,364.4 409.6,355.5 414.3,345.6 417.3,335" fill="#33ff00"/>
<polygon points="417.8,324 417.3,313 415,302.2 410.9,291.8 405.1,282.4 397.6,274.2 388.8,267.6 379.1,262.6 368.8,259.2 358.4,257.3 347.8,256.7 337.2,257.2 326.7,259 316.3,262.2 306.3,266.9 297,273.2 288.8,281.1 281.9,290.4 276.8,300.9 273.6,312.2 272.5,324 273.6,335.7 276.9,347 282.2,357.5 289.1,366.6 297.5,374.3 306.9,380.3 317,384.5 327.3,387.2 337.6,388.4 347.8,388.5 357.9,387.6 367.8,385.6 377.6,382.4 386.8,377.7 395.4,371.6 402.9,364 409,355.2 413.6,345.4 416.6,334.9" fill="#3aff00"/>
<polygon points="417.1,324 416.6,313.1 414.4,302.4 410.3,292.2 404.5,282.8 397.1,274.7 388.4,268.1 378.8,263.2 368.6,259.9 358.3,258 347.8,257.3 337.3,257.8 326.9,259.6 316.6,262.7 306.7,267.4 297.4,273.6 289.3,281.5 282.5,290.7 277.5,301.1 274.3,312.4 273.3,324 274.4,335.6 277.7,346.8 282.8,357.1 289.7,366.2 298,373.8 307.3,379.7 317.3,384 327.5,386.6 337.7,387.9 347.8,388 357.8,387.1 367.7,385.1 377.3,381.9 386.5,377.2 394.9,371.1 402.3,363.6 408.4,354.9 413,345.2 415.9,334.8" fill="#41ff00"/>
<polygon points="416.4,324 416,313.2 413.7,302.6 409.7,292.5 403.9,283.2 396.6,275.2 388,268.7 378.5,263.8 368.4,260.5 358.2,258.6 347.8,258 337.4,258.4 327.1,260.1 316.8,263.2 307,267.9 297.9,274.1 289.8,281.9 283.1,291.1 278.1,301.4 275.1,312.5 274,324 275.2,335.5 278.4,346.5 283.5,356.7 290.3,365.8 298.5,373.3 307.7,379.2 317.5,383.4 327.6,386 337.8,387.3 347.8,387.4 357.7,386.5 367.5,384.6 377,381.3 386.1,376.7 394.5,370.7 401.8,363.2 407.8,354.6 412.3,345 415.2,334.7" fill="#47ff00"/>
<polygon points="415.7,324 415.3,313.3 413,302.8 409,292.8 403.3,283.7 396.1,275.7 387.6,269.3 378.2,264.4 368.2,261.1 358.1,259.3 347.8,258.6 337.5,259.1 327.2,260.7 317.1,263.8 307.4,268.3 298.3,274.5 290.3,282.2 283.7,291.4 278.8,301.6 275.8,312.6 274.8,324 276,335.4 279.1,346.3 284.2,356.4 290.9,365.3 299,372.8 308.1,378.6 317.8,382.8 327.8,385.4 337.9,386.7 347.8,386.9 357.6,386 367.3,384 376.7,380.8 385.8,376.2 394,370.2 401.3,362.8 407.2,354.3 411.7,344.7 414.5,334.6" fill="#4eff00"/>
<polygon points="415,324 414.6,313.4 412.3,303 408.4,293.1 402.8,284.1 395.6,276.2 387.2,269.8 377.8,265 368,261.8 358,259.9 347.8,259.2 337.6,259.7 327.4,261.3 317.4,264.3 307.7,268.8 298.7,274.9 290.8,282.6 284.3,291.7 279.5,301.8 276.5,312.7 275.6,324 276.7,335.3 279.9,346.1 284.9,356 291.6,364.9 299.5,372.3 308.5,378.1 318.1,382.2 328,384.9 338,386.2 347.8,386.3 357.5,385.4 367.1,383.5 376.5,380.3 385.4,375.7 393.6,369.8 400.7,362.5 406.6,354 411,344.5 413.8,334.5" fill="#55ff00"/>
<polygon points="414.3,324 413.9,313.5 411.7,303.2 407.8,293.5 402.2,284.5 395.1,276.7 386.8,270.4 377.5,265.6 367.8,262.4 357.9,260.5 347.8,259.9 337.7,260.3 327.6,261.9 317.6,264.8 308.1,269.3 299.2,275.4 291.3,283 284.9,292 280.2,302 277.3,312.8 276.4,324 277.5,335.1 280.6,345.8 285.6,355.7 292.2,364.4 300,371.8 308.9,377.5 318.4,381.7 328.2,384.3 338,385.6 347.8,385.7 357.4,384.9 366.9,382.9 376.2,379.7 385,375.2 393.1,369.3 400.2,362.1 406,353.6 410.3,344.3 413.2,334.4" fill="#5cff00"/>
<polygon points="413.6,324 413.2,313.6 411,303.5 407.1,293.8 401.6,284.9 394.6,277.2 386.3,270.9 377.2,266.2 367.6,263 357.8,261.2 347.8,260.5 337.8,260.9 327.8,262.4 317.9,265.4 308.4,269.8 299.6,275.8 291.9,283.4 285.5,292.3 280.8,302.2 278,312.9 277.1,324 278.3,335 281.4,345.6 286.3,355.3 292.8,364 300.6,371.2 309.3,377 318.7,381.1 328.4,383.7 338.1,385 347.8,385.2 357.4,384.3 366.8,382.4 375.9,379.2 384.7,374.7 392.7,368.9 399.7,361.7 405.4,353.3 409.7,344.1 412.5,334.2" fill="#63ff00"/>
<polygon points="412.9,324 412.5,313.8 410.3,303.7 406.5,294.1 401,285.3 394.1,277.7 385.9,271.5 376.9,266.8 367.4,263.7 357.6,261.8 347.8,261.1 337.9,261.5 328,263 318.2,265.9 308.8,270.3 300,276.2 292.4,283.7 286.1,292.6 281.5,302.5 278.7,313.1 277.9,324 279.1,334.9 282.1,345.3 287,355 293.4,363.5 301.1,370.7 309.7,376.4 319,380.5 328.6,383.1 338.2,384.4 347.8,384.6 357.3,383.8 366.6,381.8 375.7,378.7 384.3,374.2 392.2,368.4 399.1,361.3 404.8,353 409,343.9 411.8,334.1" fill="#69ff00"/>
<polygon points="412.2,324 411.8,313.9 409.6,303.9 405.8,294.4 400.5,285.7 393.6,278.2 385.5,272.1 376.6,267.5 367.2,264.3 357.5,262.5 347.8,261.8 338,262.1 328.2,263.6 318.5,266.4 309.1,270.7 300.5,276.7 292.9,284.1 286.7,292.9 282.2,302.7 279.5,313.2 278.7,324 279.8,334.8 282.9,345.1 287.7,354.6 294,363.1 301.6,370.2 310.1,375.8 319.3,379.9 328.8,382.6 338.3,383.9 347.8,384 357.2,383.2 366.4,381.3 375.4,378.2 383.9,373.7 391.8,368 398.6,360.9 404.2,352.7 408.4,343.7 411.1,334" fill="#70ff00"/>
<polygon points="411.5,324 411.1,314 409,304.1 405.2,294.7 399.9,286.2 393.1,278.7 385.1,272.6 376.3,268.1 367,264.9 357.4,263.1 347.8,262.4 338.1,262.7 328.4,264.1 318.7,266.9 309.5,271.2 300.9,277.1 293.4,284.5 287.3,293.2 282.9,302.9 280.2,313.3 279.4,324 280.6,334.6 283.6,344.9 288.4,354.3 294.6,362.7 302.1,369.7 310.5,375.3 319.6,379.4 329,382 338.4,383.3 347.8,383.5 357.1,382.7 366.2,380.7 375.1,377.6 383.6,373.2 391.3,367.5 398,360.5 403.6,352.4 407.7,343.5 410.4,333.9" fill="#77ff00"/>
<polygon points="410.8,324 410.4,314.1 408.3,304.3 404.6,295.1 399.3,286.6 392.6,279.2 384.7,273.2 376,268.7 366.8,265.6 357.3,263.7 347.8,263 338.2,263.3 328.5,264.7 319,267.5 309.8,271.7 301.3,277.5 293.9,284.9 287.9,293.5 283.5,303.1 280.9,313.4 280.2,324 281.4,334.5 284.4,344.6 289,353.9 295.2,362.2 302.6,369.2 310.9,374.7 319.9,378.8 329.1,381.4 338.5,382.7 347.8,382.9 357,382.1 366.1,380.2 374.9,377.1 383.2,372.7 390.9,367.1 397.5,360.1 403,352.1 407.1,343.3 409.7,333.8" fill="#7eff00"/>
<polygon points="410.1,324 409.6,314.2 407.6,304.6 403.9,295.4 398.7,287 392.1,279.7 384.3,273.8 375.7,269.3 366.6,266.2 357.2,264.4 347.8,263.7 338.3,264 328.7,265.3 319.3,268 310.2,272.2 301.7,277.9 294.4,285.2 288.5,293.8 284.2,303.3 281.7,313.5 281,324 282.2,334.4 285.1,344.4 289.7,353.6 295.8,361.8 303.1,368.7 311.3,374.2 320.2,378.2 329.3,380.8 338.6,382.1 347.8,382.3 356.9,381.5 365.9,379.6 374.6,376.6 382.8,372.2 390.4,366.6 397,359.7 402.3,351.8 406.4,343 409,333.7" fill="#85ff00"/>
<polygon points="409.1,324 408.7,314.4 406.7,304.9 403.2,295.8 398.1,287.4 391.6,280.2 383.9,274.3 375.3,270 366.3,267 357.1,265.3 347.8,264.6 338.4,264.8 329,266.1 319.6,268.6 310.5,272.7 302.2,278.4 294.9,285.6 289.1,294.1 284.9,303.6 282.5,313.7 281.9,324 283,334.3 285.9,344.1 290.4,353.2 296.4,361.3 303.6,368.2 311.8,373.6 320.5,377.5 329.6,380.1 338.7,381.3 347.8,381.5 356.8,380.7 365.7,378.9 374.3,376 382.5,371.7 389.9,366.1 396.4,359.3 401.7,351.4 405.6,342.8 408,333.5" fill="#8bff00"/>
<polygon points="408.1,324 407.7,314.5 405.9,305.1 402.5,296.1 397.5,287.9 391.1,280.7 383.5,274.9 375,270.6 366.1,267.7 357,266.1 347.8,265.4 338.5,265.6 329.2,266.8 319.9,269.2 310.9,273.2 302.6,278.8 295.4,286 289.7,294.4 285.6,303.8 283.3,313.8 282.7,324 283.9,334.1 286.7,343.9 291.1,352.9 297,360.9 304.1,367.7 312.2,373 320.9,376.9 329.8,379.3 338.8,380.5 347.8,380.7 356.7,380 365.4,378.3 374,375.4 382.1,371.2 389.5,365.7 395.8,358.9 401,351.1 404.7,342.5 407.1,333.4" fill="#92ff00"/>
<polygon points="407.1,324 406.8,314.7 405,305.4 401.8,296.5 396.9,288.3 390.6,281.2 383.1,275.5 374.7,271.3 365.8,268.5 356.8,266.9 347.8,266.3 338.7,266.4 329.4,267.5 320.2,269.9 311.3,273.7 303,279.2 296,286.3 290.3,294.7 286.4,304 284.1,313.9 283.6,324 284.7,334 287.5,343.6 291.8,352.5 297.6,360.5 304.6,367.2 312.6,372.4 321.2,376.2 330.1,378.6 339,379.8 347.8,379.9 356.6,379.3 365.2,377.6 373.7,374.8 381.7,370.7 389,365.2 395.3,358.5 400.3,350.7 403.9,342.2 406.2,333.2" fill="#99ff00"/>
<polygon points="406.2,324 405.9,314.8 404.1,305.7 401,296.9 396.2,288.8 390,281.8 382.6,276.2 374.3,272 365.6,269.3 356.7,267.8 347.8,267.1 338.8,267.2 329.7,268.2 320.5,270.5 311.7,274.3 303.5,279.7 296.5,286.7 291,295.1 287.1,304.3 284.9,314 284.4,324 285.5,333.9 288.3,343.3 292.5,352.2 298.2,360 305.1,366.7 313,371.8 321.5,375.5 330.3,377.9 339.1,379 347.8,379.2 356.4,378.5 365,376.8 373.3,374.1 381.2,370 388.4,364.6 394.6,358 399.5,350.3 403,341.9 405.2,333.1" fill="#a0ff00"/>
<polygon points="405.2,324 404.9,315 403.2,306 400.1,297.4 395.4,289.4 389.3,282.5 382,276.9 373.8,272.9 365.3,270.2 356.6,268.6 347.8,268 338.9,268 329.9,269 320.9,271.2 312.1,274.9 304,280.2 297.1,287.2 291.7,295.4 287.9,304.5 285.7,314.2 285.3,324 286.4,333.7 289,343.1 293.2,351.8 298.8,359.6 305.7,366.1 313.5,371.3 321.9,374.9 330.5,377.2 339.2,378.3 347.8,378.4 356.3,377.6 364.7,376 372.9,373.2 380.6,369.2 387.7,363.9 393.7,357.4 398.5,349.9 402.1,341.6 404.3,332.9" fill="#a7ff00"/>
<polygon points="404.2,324 403.9,315.1 402.3,306.3 399.2,297.8 394.6,290 388.6,283.2 381.4,277.7 373.4,273.7 365,271.1 356.4,269.5 347.8,268.8 339.1,268.8 330.2,269.7 321.2,271.8 312.5,275.5 304.6,280.8 297.7,287.6 292.4,295.8 288.6,304.8 286.6,314.3 286.1,324 287.2,333.6 289.8,342.8 293.9,351.4 299.4,359.1 306.2,365.6 313.9,370.7 322.2,374.3 330.7,376.5 339.3,377.5 347.8,377.6 356.2,376.8 364.4,375.1 372.4,372.3 380,368.4 387,363.2 392.9,356.8 397.6,349.4 401.1,341.3 403.3,332.8" fill="#adff00"/>
<polygon points="403.3,324 403,315.3 401.4,306.6 398.3,298.2 393.8,290.5 387.9,283.9 380.9,278.5 373,274.6 364.7,271.9 356.3,270.4 347.8,269.7 339.2,269.6 330.4,270.4 321.6,272.5 313,276.1 305.1,281.3 298.3,288.1 293.1,296.1 289.4,305 287.4,314.4 287,324 288,333.5 290.6,342.6 294.6,351.1 300.1,358.7 306.7,365.1 314.3,370.1 322.5,373.6 331,375.8 339.4,376.8 347.8,376.8 356,376 364.1,374.3 372,371.5 379.5,367.6 386.2,362.4 392,356.1 396.7,348.9 400.1,341 402.3,332.6" fill="#b4ff00"/>
<polygon points="402.3,324 402,315.4 400.5,306.9 397.5,298.7 393.1,291.1 387.2,284.6 380.3,279.3 372.6,275.4 364.4,272.8 356.2,271.3 347.8,270.5 339.3,270.4 330.6,271.2 321.9,273.2 313.4,276.7 305.6,281.8 299,288.5 293.8,296.5 290.2,305.3 288.2,314.6 287.8,324 288.9,333.3 291.4,342.3 295.3,350.7 300.7,358.2 307.2,364.6 314.7,369.5 322.8,373 331.2,375.1 339.6,376 347.8,376 355.9,375.1 363.8,373.4 371.6,370.6 378.9,366.8 385.5,361.7 391.2,355.5 395.8,348.4 399.2,340.7 401.3,332.5" fill="#bbff00"/>
<polygon points="401.5,324 401.3,315.5 399.7,307.1 396.7,299.1 392.3,291.7 386.6,285.2 379.7,280.1 372.1,276.2 364.2,273.6 356,272 347.8,271.2 339.4,271.1 330.9,271.8 322.2,273.8 313.8,277.3 306.1,282.3 299.6,289 294.5,296.8 290.9,305.5 289,314.7 288.6,324 289.6,333.2 292.1,342.1 296,350.4 301.3,357.8 307.7,364.1 315.1,369 323.1,372.4 331.4,374.5 339.7,375.4 347.8,375.3 355.8,374.4 363.6,372.6 371.1,369.8 378.3,365.9 384.8,361 390.4,354.9 394.9,348 398.3,340.4 400.6,332.4" fill="#c2ff00"/>
<polygon points="400.8,324 400.5,315.7 398.9,307.4 395.9,299.5 391.5,292.2 385.9,285.9 379.1,280.9 371.7,277 363.9,274.4 355.9,272.8 347.8,271.9 339.5,271.8 331.1,272.5 322.5,274.4 314.3,277.8 306.6,282.8 300.2,289.4 295.1,297.2 291.6,305.7 289.7,314.8 289.3,324 290.4,333.1 292.8,341.9 296.7,350 301.9,357.4 308.2,363.6 315.5,368.4 323.4,371.8 331.6,373.9 339.8,374.8 347.8,374.7 355.7,373.7 363.3,371.8 370.7,369 377.7,365.1 384,360.2 389.5,354.3 394.1,347.6 397.5,340.2 399.8,332.2" fill="#c9ff00"/>
<polygon points="400,324 399.7,315.8 398.1,307.7 395.1,299.9 390.7,292.8 385.2,286.6 378.6,281.6 371.3,277.9 363.7,275.2 355.8,273.5 347.8,272.6 339.6,272.4 331.3,273.1 322.9,275 314.7,278.4 307.2,283.4 300.8,289.8 295.8,297.5 292.4,306 290.5,314.9 290.1,324 291.1,333 293.6,341.6 297.4,349.7 302.5,356.9 308.8,363 316,367.8 323.7,371.2 331.8,373.3 339.9,374.2 347.8,374 355.6,373 363.1,371 370.3,368.1 377.1,364.3 383.3,359.5 388.7,353.7 393.2,347.1 396.7,339.9 399,332.1" fill="#cfff00"/>
<polygon points="399.3,324 399,315.9 397.3,307.9 394.3,300.3 390,293.4 384.5,287.3 378,282.4 370.9,278.7 363.4,276 355.7,274.3 347.8,273.4 339.7,273.1 331.5,273.8 323.2,275.7 315.1,279 307.7,283.9 301.4,290.3 296.5,297.8 293.1,306.2 291.2,315 290.8,324 291.9,332.9 294.3,341.4 298.1,349.3 303.1,356.5 309.3,362.5 316.4,367.3 324,370.6 332,372.7 340,373.5 347.8,373.3 355.4,372.2 362.8,370.2 369.9,367.3 376.5,363.5 382.6,358.8 387.9,353.1 392.4,346.7 395.9,339.6 398.2,332" fill="#d6ff00"/>
<polygon points="398.5,324 398.2,316 396.5,308.2 393.5,300.7 389.2,293.9 383.8,288 377.5,283.2 370.5,279.5 363.1,276.8 355.6,275.1 347.8,274.1 339.8,273.8 331.7,274.4 323.5,276.3 315.5,279.6 308.2,284.4 302,290.7 297.2,298.2 293.8,306.5 292,315.2 291.6,324 292.6,332.7 295,341.1 298.7,349 303.7,356 309.8,362 316.8,366.7 324.3,370 332.2,372.1 340.1,372.9 347.8,372.7 355.3,371.5 362.6,369.4 369.4,366.5 375.9,362.7 381.8,358 387.1,352.5 391.5,346.3 395,339.3 397.4,331.9" fill="#ddff00"/>
<polygon points="397.7,324 397.4,316.1 395.7,308.4 392.7,301.1 388.4,294.5 383.1,288.7 376.9,284 370.1,280.3 362.9,277.6 355.4,275.8 347.8,274.8 340,274.5 331.9,275.1 323.8,276.9 315.9,280.2 308.7,284.9 302.6,291.2 297.8,298.5 294.5,306.7 292.7,315.3 292.4,324 293.4,332.6 295.7,340.9 299.4,348.6 304.3,355.6 310.3,361.5 317.2,366.1 324.6,369.5 332.4,371.5 340.2,372.3 347.8,372 355.2,370.8 362.3,368.6 369,365.7 375.3,361.9 381.1,357.3 386.3,351.9 390.7,345.9 394.2,339.1 396.6,331.7" fill="#e4ff00"/>
<polygon points="397,324 396.7,316.3 395,308.7 391.9,301.5 387.7,295 382.4,289.4 376.3,284.7 369.7,281.1 362.6,278.4 355.3,276.6 347.8,275.5 340.1,275.1 332.1,275.7 324.1,277.5 316.4,280.7 309.3,285.5 303.2,291.6 298.5,298.9 295.2,306.9 293.5,315.4 293.1,324 294.1,332.5 296.5,340.7 300.1,348.3 304.9,355.1 310.8,361 317.6,365.6 324.9,368.9 332.6,370.9 340.3,371.7 347.8,371.3 355.1,370 362,367.8 368.6,364.8 374.7,361 380.3,356.5 385.4,351.3 389.8,345.4 393.4,338.8 395.8,331.6" fill="#ebff00"/>
<polygon points="396.2,324 395.9,316.4 394.1,308.9 391.1,301.9 386.9,295.6 381.7,290.1 375.8,285.5 369.2,281.9 362.4,279.2 355.2,277.3 347.8,276.2 340.2,275.8 332.3,276.4 324.4,278.2 316.8,281.3 309.8,286 303.8,292 299.2,299.2 296,307.2 294.2,315.5 293.9,324 294.9,332.4 297.2,340.4 300.8,348 305.5,354.7 311.4,360.4 318,365 325.3,368.2 332.8,370.2 340.4,371 347.8,370.7 355,369.4 361.8,367.2 368.3,364.1 374.2,360.4 379.8,356 384.8,350.9 389.1,345.1 392.7,338.6 395.1,331.5" fill="#f1ff00"/>
<polygon points="395.4,324 395.1,316.5 393.3,309.2 390.3,302.4 386.1,296.2 381,290.8 375.2,286.3 368.8,282.7 362.1,280 355.1,278.1 347.8,276.9 340.3,276.5 332.5,277 324.8,278.8 317.2,281.9 310.3,286.5 304.4,292.5 299.9,299.6 296.7,307.4 295,315.6 294.7,324 295.6,332.3 297.9,340.2 301.4,347.6 306.1,354.3 311.9,359.9 318.5,364.4 325.6,367.6 333,369.6 340.5,370.3 347.8,370 354.9,368.7 361.6,366.6 368,363.6 373.9,359.9 379.4,355.6 384.3,350.5 388.6,344.8 392,338.4 394.4,331.4" fill="#f8ff00"/>
<polygon points="394.7,324 394.2,316.6 392.4,309.5 389.4,302.8 385.3,296.8 380.3,291.5 374.6,287.1 368.4,283.5 361.8,280.8 355,278.8 347.8,277.6 340.4,277.2 332.8,277.7 325.1,279.4 317.6,282.5 310.8,287 305,292.9 300.5,299.9 297.4,307.6 295.7,315.8 295.4,324 296.4,332.1 298.6,340 302.1,347.3 306.7,353.8 312.4,359.4 318.9,363.8 325.9,367 333.2,368.9 340.6,369.6 347.8,369.3 354.8,368.1 361.4,366 367.7,363.1 373.6,359.5 379,355.2 383.9,350.2 388.1,344.5 391.4,338.2 393.7,331.3" fill="#ffff00"/>
<polygon points="393.9,324 393.5,316.8 391.7,309.7 388.7,303.2 384.6,297.2 379.7,292.1 374.2,287.7 368.1,284.2 361.6,281.5 354.8,279.5 347.8,278.3 340.5,277.8 333,278.3 325.4,280 318.1,283.1 311.3,287.5 305.6,293.4 301.2,300.3 298.1,307.9 296.5,315.9 296.2,324 297.1,332 299.3,339.7 302.8,346.9 307.3,353.4 312.9,358.9 319.3,363.2 326.2,366.3 333.4,368.2 340.7,369 347.8,368.7 354.7,367.5 361.3,365.4 367.5,362.6 373.3,359 378.6,354.8 383.4,349.9 387.5,344.2 390.8,338 393,331.2" fill="#fff800"/>
<polygon points="393.2,324 392.8,316.9 391,310 388.1,303.5 384.1,297.6 379.3,292.5 373.8,288.2 367.8,284.7 361.4,282 354.8,280.1 347.8,278.9 340.6,278.5 333.2,279 325.7,280.6 318.5,283.6 311.9,288.1 306.2,293.8 301.9,300.6 298.8,308.1 297.2,316 296.9,324 297.8,331.9 300,339.5 303.4,346.6 307.9,353 313.4,358.4 319.7,362.6 326.5,365.7 333.6,367.6 340.8,368.4 347.8,368.1 354.6,366.9 361.1,364.9 367.2,362.1 372.9,358.6 378.2,354.4 382.9,349.5 387,344 390.2,337.8 392.3,331" fill="#fff100"/>
<polygon points="392.5,324 392,317 390.3,310.2 387.4,303.8 383.6,298 378.8,293 373.5,288.7 367.5,285.2 361.3,282.6 354.7,280.7 347.8,279.5 340.7,279.1 333.4,279.6 326,281.3 318.9,284.2 312.4,288.6 306.8,294.2 302.5,300.9 299.5,308.3 297.9,316.1 297.6,324 298.6,331.8 300.7,339.3 304.1,346.3 308.5,352.5 314,357.8 320.1,362.1 326.9,365.1 333.8,367 340.9,367.7 347.8,367.5 354.5,366.3 360.9,364.4 367,361.6 372.6,358.1 377.8,354 382.4,349.2 386.4,343.7 389.5,337.6 391.6,330.9" fill="#ffeb00"/>
<polygon points="391.8,324 391.3,317.1 389.6,310.4 386.8,304.1 383,298.4 378.4,293.4 373.1,289.2 367.3,285.8 361.1,283.2 354.6,281.3 347.8,280.1 340.8,279.7 333.6,280.2 326.3,281.9 319.3,284.8 312.9,289.1 307.4,294.7 303.2,301.3 300.2,308.5 298.6,316.2 298.3,324 299.3,331.7 301.4,339.1 304.7,345.9 309.1,352.1 314.5,357.3 320.6,361.5 327.2,364.5 334,366.3 341,367.1 347.8,366.9 354.4,365.8 360.7,363.8 366.7,361.1 372.3,357.7 377.4,353.6 381.9,348.8 385.8,343.4 388.9,337.4 390.9,330.8" fill="#ffe400"/>
<polygon points="391.1,324 390.6,317.2 389,310.6 386.2,304.4 382.5,298.8 377.9,293.9 372.7,289.7 367,286.3 360.9,283.7 354.5,281.9 347.8,280.8 340.9,280.3 333.8,280.9 326.6,282.5 319.7,285.4 313.4,289.6 308,295.1 303.8,301.6 300.9,308.8 299.3,316.3 299.1,324 300,331.6 302.1,338.8 305.4,345.6 309.7,351.7 315,356.8 321,360.9 327.5,363.9 334.3,365.7 341.1,366.5 347.8,366.2 354.3,365.2 360.6,363.3 366.5,360.6 372,357.3 377,353.2 381.5,348.5 385.3,343.1 388.3,337.1 390.2,330.7" fill="#ffdd00"/>
<polygon points="390.3,324 389.9,317.3 388.3,310.8 385.6,304.7 381.9,299.2 377.5,294.3 372.4,290.2 366.7,286.9 360.7,284.3 354.4,282.5 347.8,281.4 341,281 334,281.5 327,283.1 320.2,286 313.9,290.1 308.7,295.6 304.5,301.9 301.6,309 300.1,316.4 299.8,324 300.7,331.5 302.8,338.6 306.1,345.3 310.3,351.2 315.5,356.3 321.4,360.3 327.8,363.2 334.5,365 341.2,365.8 347.8,365.6 354.2,364.6 360.4,362.8 366.2,360.1 371.6,356.8 376.6,352.8 381,348.1 384.7,342.8 387.6,336.9 389.5,330.6" fill="#ffd600"/>
<polygon points="389.6,324 389.2,317.4 387.6,311.1 385,305.1 381.4,299.6 377,294.8 372,290.7 366.4,287.4 360.5,284.9 354.3,283.1 347.8,282 341.1,281.6 334.2,282.1 327.3,283.7 320.6,286.6 314.5,290.7 309.3,296 305.2,302.3 302.3,309.2 300.8,316.6 300.5,324 301.4,331.3 303.5,338.4 306.7,344.9 310.9,350.8 316,355.8 321.9,359.7 328.1,362.6 334.7,364.4 341.3,365.2 347.8,365 354.1,364 360.2,362.2 366,359.7 371.3,356.4 376.2,352.4 380.5,347.8 384.2,342.5 387,336.7 388.8,330.5" fill="#ffcf00"/>
<polygon points="388.9,324 388.5,317.6 386.9,311.3 384.4,305.4 380.9,300 376.6,295.2 371.6,291.2 366.2,287.9 360.3,285.4 354.2,283.7 347.8,282.6 341.2,282.2 334.4,282.8 327.6,284.3 321,287.1 315,291.2 309.9,296.4 305.8,302.6 303,309.5 301.5,316.7 301.2,324 302.1,331.2 304.2,338.2 307.4,344.6 311.6,350.3 316.6,355.2 322.3,359.1 328.5,362 334.9,363.8 341.4,364.5 347.8,364.4 354,363.4 360,361.7 365.7,359.2 371,355.9 375.8,352 380,347.4 383.6,342.2 386.4,336.5 388.2,330.4" fill="#ffc900"/>
<polygon points="388.2,324 387.7,317.7 386.2,311.5 383.7,305.7 380.3,300.4 376.1,295.7 371.3,291.7 365.9,288.5 360.2,286 354.1,284.2 347.8,283.2 341.3,282.9 334.6,283.5 328,285.1 321.5,287.9 315.6,291.8 310.6,297 306.6,303 303.8,309.7 302.2,316.8 301.9,324 302.8,331.1 304.9,337.9 308,344.3 312.2,349.9 317.1,354.7 322.7,358.5 328.8,361.3 335.1,363.1 341.5,363.9 347.8,363.8 354,362.9 359.9,361.2 365.5,358.7 370.7,355.5 375.4,351.6 379.6,347.1 383,342 385.7,336.3 387.5,330.3" fill="#ffc200"/>
<polygon points="387.4,324 387,317.8 385.6,311.7 383.1,306 379.8,300.8 375.7,296.1 370.9,292.2 365.6,289 360,286.5 354,284.8 347.8,283.8 341.4,283.6 334.9,284.2 328.3,285.8 322.1,288.6 316.3,292.5 311.3,297.5 307.4,303.4 304.6,310 303,316.9 302.7,324 303.5,331 305.6,337.7 308.7,343.9 312.8,349.5 317.6,354.2 323.2,357.9 329.1,360.7 335.3,362.5 341.6,363.3 347.8,363.2 353.9,362.3 359.7,360.6 365.2,358.2 370.3,355 375,351.2 379.1,346.7 382.5,341.7 385.1,336.1 386.8,330.2" fill="#ffbb00"/>
<polygon points="386.7,324 386.3,317.9 384.9,311.9 382.5,306.3 379.2,301.2 375.2,296.6 370.5,292.7 365.4,289.5 359.8,287.1 353.9,285.4 347.8,284.5 341.5,284.3 335.1,284.9 328.7,286.6 322.6,289.3 316.9,293.1 312.1,298 308.1,303.8 305.3,310.2 303.7,317 303.4,324 304.2,330.9 306.2,337.5 309.3,343.6 313.4,349 318.2,353.6 323.6,357.3 329.4,360 335.5,361.8 341.7,362.6 347.8,362.6 353.8,361.7 359.5,360.1 365,357.7 370,354.6 374.6,350.8 378.6,346.4 381.9,341.4 384.5,335.9 386.1,330.1" fill="#ffb400"/>
<polygon points="386,324 385.6,318 384.2,312.2 381.9,306.6 378.7,301.5 374.8,297 370.2,293.2 365.1,290.1 359.6,287.7 353.8,286.1 347.8,285.2 341.6,285 335.4,285.7 329.1,287.3 323.1,290 317.6,293.8 312.8,298.6 308.9,304.2 306.1,310.5 304.5,317.1 304.1,324 304.9,330.8 306.9,337.3 310,343.3 314,348.6 318.7,353.1 324,356.7 329.8,359.4 335.7,361.2 341.8,362 347.8,362 353.7,361.1 359.3,359.5 364.7,357.2 369.7,354.1 374.2,350.4 378.1,346 381.4,341.1 383.8,335.7 385.4,330" fill="#ffad00"/>
<polygon points="385.3,324 384.9,318.1 383.5,312.4 381.3,306.9 378.2,301.9 374.3,297.5 369.8,293.7 364.8,290.6 359.4,288.3 353.7,286.7 347.8,285.8 341.7,285.7 335.6,286.4 329.5,288.1 323.7,290.8 318.2,294.4 313.5,299.1 309.7,304.6 306.9,310.7 305.2,317.3 304.8,324 305.6,330.7 307.6,337.1 310.6,342.9 314.6,348.2 319.2,352.6 324.5,356.1 330.1,358.8 335.9,360.5 341.9,361.3 347.8,361.3 353.6,360.6 359.2,359 364.5,356.7 369.4,353.7 373.8,350 377.6,345.7 380.8,340.8 383.2,335.5 384.7,329.8" fill="#ffa700"/>
<polygon points="384.6,324 384.2,318.2 382.9,312.6 380.7,307.3 377.6,302.3 373.9,297.9 369.4,294.2 364.5,291.2 359.2,288.9 353.6,287.3 347.8,286.5 341.9,286.4 335.8,287.2 329.9,288.9 324.2,291.5 318.9,295.1 314.3,299.6 310.5,305 307.7,311 306,317.4 305.5,324 306.3,330.6 308.3,336.8 311.3,342.6 315.1,347.7 319.8,352 324.9,355.5 330.4,358.1 336.2,359.8 342,360.7 347.8,360.7 353.5,360 359,358.5 364.2,356.2 369.1,353.2 373.4,349.6 377.2,345.3 380.2,340.5 382.6,335.3 384,329.7" fill="#ffa000"/>
<polygon points="383.9,324 383.5,318.4 382.2,312.8 380,307.6 377.1,302.7 373.4,298.4 369.1,294.7 364.3,291.7 359,289.5 353.5,287.9 347.8,287.2 342,287.1 336.1,287.9 330.3,289.6 324.7,292.2 319.5,295.7 315,300.2 311.2,305.4 308.4,311.2 306.7,317.5 306.2,324 307,330.5 308.9,336.6 311.9,342.3 315.7,347.3 320.3,351.5 325.3,354.9 330.7,357.5 336.4,359.2 342.1,360.1 347.8,360.1 353.4,359.4 358.8,357.9 364,355.7 368.7,352.8 373,349.2 376.7,345 379.7,340.2 381.9,335.1 383.3,329.6" fill="#ff9900"/>
<polygon points="383.1,324 382.8,318.5 381.5,313 379.4,307.9 376.6,303.1 373,298.8 368.7,295.2 364,292.3 358.8,290 353.4,288.6 347.8,287.8 342.1,287.9 336.3,288.7 330.7,290.4 325.2,292.9 320.2,296.4 315.7,300.7 312,305.8 309.2,311.5 307.5,317.6 307,324 307.7,330.4 309.6,336.4 312.6,342 316.3,346.9 320.8,351 325.8,354.3 331.1,356.9 336.6,358.5 342.2,359.4 347.8,359.5 353.3,358.8 358.7,357.4 363.7,355.2 368.4,352.4 372.6,348.8 376.2,344.6 379.1,340 381.3,334.9 382.6,329.5" fill="#ff9200"/>
<polygon points="382.4,324 382,318.6 380.8,313.3 378.8,308.2 376,303.5 372.5,299.3 368.4,295.7 363.7,292.8 358.6,290.6 353.3,289.2 347.8,288.5 342.2,288.6 336.6,289.4 331.1,291.1 325.8,293.7 320.9,297.1 316.5,301.2 312.8,306.1 310,311.7 308.2,317.7 307.7,324 308.4,330.2 310.3,336.2 313.2,341.6 316.9,346.4 321.3,350.5 326.2,353.7 331.4,356.2 336.8,357.9 342.3,358.8 347.8,358.9 353.2,358.2 358.5,356.9 363.5,354.7 368.1,351.9 372.2,348.4 375.7,344.3 378.6,339.7 380.7,334.7 382,329.4" fill="#ff8b00"/>
<polygon points="381.7,324 381.3,318.7 380.2,313.5 378.2,308.5 375.5,303.9 372,299.8 368,296.2 363.4,293.3 358.5,291.2 353.2,289.8 347.8,289.2 342.3,289.3 336.8,290.2 331.4,291.9 326.3,294.4 321.5,297.7 317.2,301.8 313.5,306.5 310.7,312 309,317.9 308.4,324 309.1,330.1 311,336 313.8,341.3 317.5,346 321.9,349.9 326.6,353.1 331.7,355.6 337,357.2 342.4,358.1 347.8,358.3 353.1,357.7 358.3,356.3 363.2,354.3 367.8,351.5 371.8,348 375.3,343.9 378,339.4 380,334.5 381.3,329.3" fill="#ff8500"/>
<polygon points="381,324 380.6,318.8 379.5,313.7 377.6,308.8 374.9,304.3 371.6,300.2 367.6,296.7 363.1,293.9 358.3,291.8 353.1,290.4 347.8,289.8 342.4,290 337.1,290.9 331.8,292.7 326.8,295.1 322.2,298.4 317.9,302.3 314.3,306.9 311.5,312.2 309.7,318 309.1,324 309.8,330 311.6,335.7 314.5,341 318.1,345.5 322.4,349.4 327.1,352.5 332,354.9 337.2,356.6 342.5,357.5 347.8,357.7 353,357.1 358.1,355.8 363,353.8 367.4,351 371.4,347.6 374.8,343.6 377.5,339.1 379.4,334.3 380.6,329.2" fill="#ff7e00"/>
<polygon points="380.2,324 379.9,318.9 378.8,313.9 376.9,309.2 374.3,304.7 371.1,300.7 367.2,297.3 362.8,294.5 358.1,292.5 353,291.1 347.8,290.5 342.5,290.7 337.3,291.7 332.2,293.3 327.3,295.8 322.7,298.9 318.6,302.8 315,307.3 312.3,312.5 310.5,318.1 309.9,324 310.5,329.9 312.4,335.5 315.2,340.6 318.8,345.1 322.9,348.9 327.5,351.9 332.4,354.3 337.4,355.9 342.6,356.8 347.8,357 352.9,356.4 357.9,355.1 362.7,353.1 367,350.5 370.9,347.1 374.2,343.2 376.8,338.8 378.7,334 379.8,329.1" fill="#ff7700"/>
<polygon points="379.4,324 379.1,319 378,314.2 376.2,309.5 373.7,305.2 370.5,301.3 366.8,297.9 362.5,295.2 357.8,293.2 352.9,291.8 347.8,291.3 342.6,291.4 337.5,292.4 332.5,294 327.7,296.4 323.3,299.5 319.2,303.2 315.7,307.6 313,312.7 311.3,318.2 310.7,324 311.3,329.8 313.1,335.3 315.9,340.3 319.4,344.6 323.5,348.3 327.9,351.3 332.7,353.6 337.7,355.2 342.7,356.1 347.8,356.2 352.8,355.7 357.7,354.4 362.3,352.5 366.6,349.9 370.4,346.6 373.6,342.7 376.1,338.4 378,333.8 379.1,329" fill="#ff7000"/>
<polygon points="378.7,324 378.3,319.2 377.3,314.4 375.6,309.9 373.1,305.6 370,301.8 366.3,298.5 362.1,295.8 357.6,293.8 352.8,292.6 347.8,292 342.8,292.2 337.7,293 332.8,294.7 328.2,297 323.8,300 319.8,303.7 316.4,308 313.7,312.9 312,318.3 311.5,324 312.1,329.7 313.9,335 316.6,339.9 320,344.2 324,347.8 328.4,350.7 333,353 337.9,354.5 342.8,355.3 347.8,355.5 352.7,355 357.5,353.7 362,351.8 366.1,349.3 369.8,346 373,342.3 375.4,338.1 377.2,333.6 378.3,328.8" fill="#ff6900"/>
<polygon points="377.9,324 377.6,319.3 376.6,314.7 374.9,310.2 372.5,306.1 369.5,302.3 365.9,299.1 361.8,296.5 357.4,294.5 352.7,293.3 347.8,292.7 342.9,292.9 338,293.7 333.2,295.3 328.6,297.6 324.3,300.5 320.4,304.1 317.1,308.3 314.5,313.2 312.8,318.5 312.3,324 312.9,329.5 314.6,334.8 317.2,339.6 320.6,343.7 324.5,347.3 328.8,350.1 333.4,352.3 338.1,353.8 342.9,354.6 347.8,354.8 352.6,354.2 357.2,353 361.6,351.2 365.7,348.6 369.3,345.5 372.3,341.8 374.8,337.7 376.5,333.3 377.5,328.7" fill="#ff6300"/>
<polygon points="377.1,324 376.8,319.4 375.8,314.9 374.2,310.6 371.9,306.5 368.9,302.9 365.4,299.7 361.5,297.2 357.1,295.2 352.6,294 347.8,293.5 343,293.6 338.2,294.4 333.5,296 329,298.2 324.9,301.1 321,304.6 317.8,308.7 315.2,313.4 313.6,318.6 313,324 313.7,329.4 315.3,334.5 317.9,339.2 321.2,343.3 325.1,346.7 329.3,349.5 333.7,351.6 338.3,353.1 343.1,353.9 347.8,354 352.5,353.5 357,352.3 361.3,350.5 365.3,348 368.8,345 371.7,341.4 374.1,337.4 375.7,333.1 376.8,328.6" fill="#ff5c00"/>
<polygon points="376.3,324 376,319.5 375.1,315.1 373.5,310.9 371.3,307 368.4,303.4 365,300.3 361.1,297.8 356.9,295.9 352.4,294.7 347.8,294.2 343.1,294.3 338.4,295.1 333.9,296.6 329.5,298.8 325.4,301.6 321.7,305 318.5,309.1 316,313.7 314.4,318.7 313.8,324 314.4,329.3 316.1,334.3 318.6,338.9 321.9,342.8 325.6,346.2 329.7,348.9 334,351 338.6,352.4 343.2,353.2 347.8,353.3 352.4,352.8 356.8,351.7 361,349.9 364.8,347.4 368.2,344.4 371.1,340.9 373.4,337 375,332.8 376,328.5" fill="#ff5500"/>
<polygon points="375.6,324 375.3,319.7 374.4,315.4 372.8,311.3 370.6,307.4 367.9,303.9 364.6,300.9 360.8,298.5 356.7,296.6 352.3,295.4 347.8,294.9 343.2,295 338.6,295.8 334.2,297.3 329.9,299.4 325.9,302.1 322.3,305.5 319.2,309.4 316.7,313.9 315.1,318.8 314.6,324 315.2,329.2 316.8,334.1 319.3,338.5 322.5,342.4 326.1,345.7 330.1,348.3 334.4,350.3 338.8,351.7 343.3,352.5 347.8,352.6 352.2,352.1 356.6,351 360.6,349.2 364.4,346.8 367.7,343.9 370.5,340.5 372.7,336.7 374.3,332.6 375.2,328.3" fill="#ff4e00"/>
<polygon points="374.8,324 374.5,319.8 373.6,315.6 372.1,311.6 370,307.8 367.3,304.5 364.1,301.5 360.5,299.1 356.5,297.3 352.2,296.2 347.8,295.6 343.3,295.8 338.9,296.5 334.5,298 330.4,300 326.5,302.7 322.9,305.9 319.8,309.8 317.5,314.1 315.9,319 315.4,324 316,329 317.6,333.8 320,338.2 323.1,341.9 326.7,345.1 330.6,347.7 334.7,349.7 339,351 343.4,351.7 347.8,351.9 352.1,351.4 356.3,350.3 360.3,348.5 364,346.2 367.2,343.4 369.9,340 372,336.3 373.5,332.4 374.5,328.2" fill="#ff4700"/>
<polygon points="374,324 373.7,319.9 372.8,315.9 371.3,312 369.2,308.4 366.6,305.2 363.5,302.4 360,300 356.2,298.3 352.1,297.1 347.8,296.6 343.5,296.7 339.2,297.4 335,298.8 330.9,300.8 327.1,303.3 323.7,306.5 320.7,310.2 318.4,314.4 316.9,319.1 316.3,324 316.9,328.9 318.5,333.5 320.8,337.7 323.9,341.4 327.4,344.4 331.1,346.9 335.1,348.8 339.3,350.1 343.6,350.8 347.8,350.9 352,350.4 356,349.3 359.8,347.6 363.4,345.4 366.5,342.7 369.1,339.5 371.2,335.9 372.7,332.1 373.7,328.1" fill="#ff4100"/>
<polygon points="372.7,324 372.5,320.1 371.6,316.3 370.2,312.6 368.2,309.2 365.7,306.1 362.8,303.4 359.4,301.1 355.8,299.4 351.9,298.3 347.8,297.8 343.7,297.8 339.5,298.5 335.5,299.8 331.6,301.7 327.9,304.1 324.6,307.1 321.7,310.7 319.4,314.8 317.9,319.3 317.4,324 318,328.7 319.5,333.2 321.8,337.2 324.8,340.7 328.2,343.6 331.8,346 335.7,347.8 339.7,349 343.7,349.7 347.8,349.8 351.8,349.2 355.7,348.2 359.3,346.5 362.6,344.4 365.6,341.8 368.1,338.7 370.1,335.3 371.5,331.7 372.4,327.9" fill="#ff3a00"/>
<polygon points="371.3,324 371.1,320.3 370.3,316.7 369,313.2 367.1,309.9 364.8,307 362.1,304.4 358.9,302.2 355.4,300.6 351.7,299.5 347.8,298.9 343.8,299 339.9,299.6 336,300.9 332.3,302.6 328.8,305 325.5,307.8 322.7,311.2 320.4,315.1 319,319.4 318.5,324 319.1,328.6 320.6,332.8 322.8,336.7 325.7,340 329,342.8 332.5,345.1 336.2,346.8 340,347.9 343.9,348.5 347.8,348.6 351.6,348.1 355.3,347 358.7,345.5 361.9,343.4 364.7,340.9 367,338 368.9,334.7 370.2,331.3 371,327.7" fill="#ff3300"/>
<polygon points="369.9,324 369.7,320.5 369,317.1 367.8,313.8 366.1,310.7 363.9,307.9 361.3,305.4 358.3,303.3 355,301.7 351.5,300.6 347.8,300.1 344,300.1 340.2,300.7 336.5,301.9 333,303.6 329.6,305.8 326.4,308.5 323.7,311.7 321.5,315.5 320.1,319.6 319.6,324 320.1,328.4 321.6,332.5 323.8,336.2 326.6,339.4 329.8,342 333.2,344.1 336.7,345.7 340.4,346.8 344.1,347.4 347.8,347.4 351.4,346.9 354.9,345.9 358.2,344.4 361.2,342.4 363.8,340 366,337.2 367.7,334.1 368.9,330.9 369.6,327.5" fill="#ff2c00"/>
<polygon points="368.4,324 368.3,320.8 367.6,317.6 366.6,314.4 365,311.5 363,308.8 360.6,306.4 357.8,304.4 354.7,302.8 351.3,301.8 347.8,301.2 344.2,301.3 340.6,301.8 337.1,302.9 333.6,304.5 330.4,306.6 327.3,309.1 324.7,312.2 322.5,315.8 321.1,319.8 320.7,324 321.2,328.2 322.7,332.2 324.8,335.7 327.5,338.7 330.6,341.2 333.9,343.2 337.3,344.7 340.7,345.7 344.3,346.2 347.8,346.2 351.2,345.8 354.5,344.8 357.6,343.3 360.4,341.4 362.9,339.1 364.9,336.4 366.5,333.5 367.6,330.4 368.2,327.2" fill="#ff2500"/>
<polygon points="367,324 366.9,321 366.3,318 365.4,315.1 364,312.3 362.1,309.7 359.9,307.4 357.2,305.5 354.3,304 351.1,302.9 347.8,302.4 344.4,302.4 341,302.9 337.6,303.9 334.3,305.4 331.2,307.4 328.3,309.8 325.7,312.7 323.6,316.1 322.2,319.9 321.8,324 322.3,328 323.7,331.8 325.8,335.2 328.5,338 331.4,340.4 334.5,342.3 337.8,343.7 341.1,344.6 344.5,345.1 347.8,345.1 351.1,344.6 354.2,343.6 357.1,342.2 359.7,340.4 362,338.2 363.8,335.7 365.3,332.9 366.2,330 366.8,327" fill="#ff1f00"/>
<polygon points="365.1,324 365,321.3 364.5,318.6 363.7,315.9 362.5,313.3 360.9,310.9 358.8,308.8 356.5,307 353.8,305.6 350.9,304.6 347.8,304.1 344.6,304.1 341.5,304.6 338.4,305.5 335.3,306.8 332.4,308.6 329.7,310.8 327.3,313.5 325.3,316.7 324,320.2 323.6,324 324.1,327.8 325.4,331.3 327.5,334.4 329.9,337 332.7,339.1 335.6,340.8 338.6,342.1 341.6,342.9 344.7,343.4 347.8,343.3 350.8,342.9 353.6,342 356.3,340.7 358.7,338.9 360.7,336.9 362.4,334.6 363.6,332.1 364.5,329.4 365,326.7" fill="#ff1800"/>
<polygon points="362.8,324 362.7,321.6 362.3,319.3 361.6,317 360.6,314.7 359.2,312.6 357.5,310.7 355.4,309 353.1,307.7 350.5,306.8 347.8,306.3 345,306.3 342.2,306.7 339.4,307.5 336.7,308.7 334.1,310.3 331.7,312.3 329.5,314.7 327.7,317.5 326.5,320.6 326.1,324 326.6,327.4 327.9,330.5 329.7,333.2 332,335.5 334.4,337.4 337,338.8 339.7,339.9 342.4,340.7 345.1,341 347.8,341 350.4,340.6 352.9,339.8 355.2,338.6 357.3,337 359,335.2 360.5,333.2 361.5,331 362.2,328.7 362.7,326.4" fill="#ff1100"/>
</g>
<path d="M591.0 225.7A262.3 262.3 0 0 1 302.3 582.3" fill="none" stroke="#fff" stroke-width="1.5" stroke-dasharray="5 2.6"/>
<circle cx="347.8" cy="324.0" r="264.0" fill="none" stroke="#000" stroke-width="1.25"/>
<path d="M610.8 298.7A264.2 264.2 0 0 1 610.8 349.3 M322.5 61.0A264.2 264.2 0 0 1 373.1 61.0 M84.8 349.3A264.2 264.2 0 0 1 84.8 298.7 M373.1 587.0A264.2 264.2 0 0 1 322.5 587.0" fill="none" stroke="#000" stroke-width="2.2"/>
<g fill="none" stroke="#000" stroke-width="1.9" stroke-dasharray="6.8 7.6">
<circle cx="347.8" cy="324.0" r="59.8"/>
<circle cx="347.8" cy="324.0" r="119.3"/>
<circle cx="347.8" cy="324.0" r="179.3"/>
<line x1="84" y1="324.0" x2="612" y2="324.0" stroke-width="2.5"/>
<line x1="347.8" y1="60" x2="347.8" y2="588" stroke-width="2.5"/>
</g>
<polygon points="426.4,324 426.3,317.1 425.4,310.3 423.7,303.7 421.5,297.2 418.6,291 415.2,285.1 411.3,279.5 407,274.3 402.3,269.5 397.3,265 392,260.9 386.3,257.3 380.4,254.1 374.2,251.4 367.8,249.3 361.2,247.7 354.6,246.8 347.8,246.6 341.1,247 334.4,248.1 327.9,249.8 321.6,252 315.4,254.6 309.5,257.7 303.8,261.2 298.3,265 292.9,269.1 287.7,273.6 282.7,278.4 278,283.7 273.7,289.4 269.9,295.6 266.7,302.3 264.2,309.3 262.6,316.5 262,324 262.4,331.5 263.8,338.8 266.1,345.9 269.2,352.6 273,358.9 277.3,364.7 282.1,370 287.3,374.8 292.6,379.2 298.2,383.1 304,386.6 309.9,389.6 316,392.2 322.2,394.4 328.5,396 334.9,397.2 341.3,397.8 347.8,397.8 354.2,397.3 360.5,396.2 366.7,394.6 372.7,392.5 378.6,390 384.2,387.1 389.6,383.7 394.8,380 399.7,375.9 404.4,371.5 408.8,366.7 412.9,361.6 416.5,356 419.7,350.2 422.4,344 424.4,337.5 425.8,330.8" fill="none" stroke="#000" stroke-width="2.2" stroke-linejoin="round"/>
<g stroke="#000030" stroke-width="1.5">
<line x1="534.5" y1="137.3" x2="521.7" y2="150.1"/>
<line x1="161.1" y1="137.3" x2="173.9" y2="150.1"/>
<line x1="161.1" y1="510.7" x2="173.9" y2="497.9"/>
<line x1="534.5" y1="510.7" x2="521.7" y2="497.9"/>
</g>
<rect x="670.2" y="75.6" width="31" height="515.6" fill="url(#cb)"/>
<line x1="670" y1="59.3" x2="698" y2="59.3" stroke="#000" stroke-width="2"/>
<text x="332.6" y="49.2" font-size="32" text-anchor="start" textLength="29.7" lengthAdjust="spacingAndGlyphs">90</text>
<text x="114.3" y="128.6" font-size="32" text-anchor="start" textLength="44.2" lengthAdjust="spacingAndGlyphs">135</text>
<text x="536.3" y="128.6" font-size="32" text-anchor="start" textLength="30.2" lengthAdjust="spacingAndGlyphs">45</text>
<text x="34.2" y="334.8" font-size="32" text-anchor="start" textLength="45.5" lengthAdjust="spacingAndGlyphs">180</text>
<text x="618.0" y="334.8" font-size="32" text-anchor="start" textLength="15.4" lengthAdjust="spacingAndGlyphs">0</text>
<text x="114.3" y="538.8" font-size="32" text-anchor="start" textLength="44.2" lengthAdjust="spacingAndGlyphs">225</text>
<text x="536.3" y="538.8" font-size="32" text-anchor="start" textLength="44.9" lengthAdjust="spacingAndGlyphs">315</text>
<text x="323.5" y="620.1" font-size="32" text-anchor="start" textLength="44.0" lengthAdjust="spacingAndGlyphs">270</text>
<text x="412.2" y="312.6" font-size="32" text-anchor="start" textLength="29.6" lengthAdjust="spacingAndGlyphs">20</text>
<text x="472.8" y="312.6" font-size="32" text-anchor="start" textLength="28.4" lengthAdjust="spacingAndGlyphs">40</text>
<text x="532.3" y="312.6" font-size="32" text-anchor="start" textLength="28.4" lengthAdjust="spacingAndGlyphs">60</text>
<text x="82.4" y="620.1" font-size="32" text-anchor="start" textLength="260.2" lengthAdjust="spacingAndGlyphs">LaboFnac_Eldim_2022</text>
<text x="703.8" y="87.6" font-size="32" text-anchor="start" textLength="65.2" lengthAdjust="spacingAndGlyphs">121.8</text>
<text x="703.8" y="119.7" font-size="32" text-anchor="start" textLength="65.2" lengthAdjust="spacingAndGlyphs">114.4</text>
<text x="703.8" y="151.8" font-size="32" text-anchor="start" textLength="65.2" lengthAdjust="spacingAndGlyphs">106.9</text>
<text x="703.8" y="183.9" font-size="32" text-anchor="start" textLength="50.6" lengthAdjust="spacingAndGlyphs">99.5</text>
<text x="703.8" y="216.0" font-size="32" text-anchor="start" textLength="50.6" lengthAdjust="spacingAndGlyphs">92.1</text>
<text x="703.8" y="248.1" font-size="32" text-anchor="start" textLength="50.6" lengthAdjust="spacingAndGlyphs">84.6</text>
<text x="703.8" y="280.2" font-size="32" text-anchor="start" textLength="50.6" lengthAdjust="spacingAndGlyphs">77.2</text>
<text x="703.8" y="312.3" font-size="32" text-anchor="start" textLength="50.6" lengthAdjust="spacingAndGlyphs">69.7</text>
<text x="703.8" y="344.4" font-size="32" text-anchor="start" textLength="50.6" lengthAdjust="spacingAndGlyphs">62.3</text>
<text x="703.8" y="376.5" font-size="32" text-anchor="start" textLength="50.6" lengthAdjust="spacingAndGlyphs">54.8</text>
<text x="703.8" y="408.6" font-size="32" text-anchor="start" textLength="50.6" lengthAdjust="spacingAndGlyphs">47.4</text>
<text x="703.8" y="440.7" font-size="32" text-anchor="start" textLength="50.6" lengthAdjust="spacingAndGlyphs">40.0</text>
<text x="703.8" y="472.8" font-size="32" text-anchor="start" textLength="50.6" lengthAdjust="spacingAndGlyphs">32.5</text>
<text x="703.8" y="504.9" font-size="32" text-anchor="start" textLength="50.6" lengthAdjust="spacingAndGlyphs">25.1</text>
<text x="703.8" y="537.0" font-size="32" text-anchor="start" textLength="50.6" lengthAdjust="spacingAndGlyphs">17.6</text>
<text x="703.8" y="569.1" font-size="32" text-anchor="start" textLength="50.6" lengthAdjust="spacingAndGlyphs">10.2</text>
<text x="703.8" y="601.2" font-size="32" text-anchor="start" textLength="36.0" lengthAdjust="spacingAndGlyphs">2.7</text>
<text x="704.0" y="69.7" font-size="32" text-anchor="start" textLength="78.0" lengthAdjust="spacingAndGlyphs">50.0 %</text>
<text transform="translate(642.8,237.4) rotate(-90)" font-size="26.2" stroke="#000" stroke-width="0.6">Luminance</text>
</g>
<rect x="815" y="0" width="1" height="674" fill="#dcdcdc"/>
<rect x="0" y="672" width="817" height="1" fill="#c4c4c4"/>
<rect x="816" y="0" width="1" height="674" fill="#808080"/>
<rect x="0" y="673" width="817" height="1" fill="#808080"/>
</svg>
</body></html>
